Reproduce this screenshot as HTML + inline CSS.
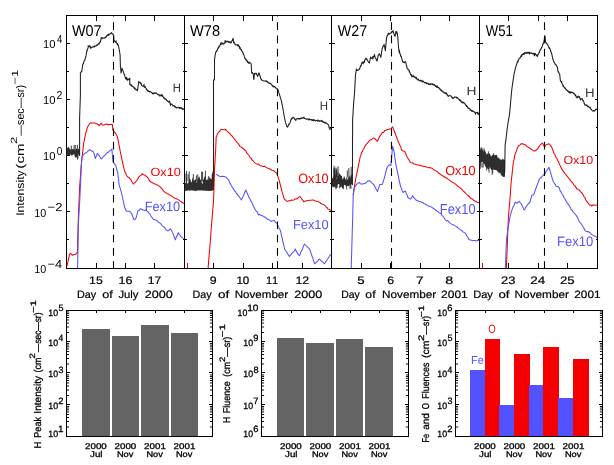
<!DOCTYPE html>
<html><head><meta charset="utf-8"><style>
html,body{margin:0;padding:0;background:#fff;}
body{width:614px;height:465px;overflow:hidden;}
svg{display:block;will-change:transform;text-rendering:geometricPrecision;font-family:"Liberation Sans",sans-serif;font-kerning:none;}
</style></head><body>
<svg width="614" height="465" viewBox="0 0 614 465">
<rect width="614" height="465" fill="#fff"/>
<defs><clipPath id="clipTop"><rect x="0" y="15" width="614" height="254"/></clipPath></defs>
<g stroke="#000" stroke-width="1" fill="none" shape-rendering="crispEdges">
<rect x="66.5" y="15.5" width="531" height="253"/>
<line x1="184.5" y1="15" x2="184.5" y2="269"/>
<line x1="331.5" y1="15" x2="331.5" y2="269"/>
<line x1="479.5" y1="15" x2="479.5" y2="269"/>
<line x1="66.5" y1="239.5" x2="68.5" y2="239.5"/>
<line x1="184.5" y1="239.5" x2="182.5" y2="239.5"/>
<line x1="66.5" y1="211.5" x2="69.5" y2="211.5"/>
<line x1="184.5" y1="211.5" x2="181.5" y2="211.5"/>
<line x1="66.5" y1="183.5" x2="68.5" y2="183.5"/>
<line x1="184.5" y1="183.5" x2="182.5" y2="183.5"/>
<line x1="66.5" y1="155.5" x2="69.5" y2="155.5"/>
<line x1="184.5" y1="155.5" x2="181.5" y2="155.5"/>
<line x1="66.5" y1="127.5" x2="68.5" y2="127.5"/>
<line x1="184.5" y1="127.5" x2="182.5" y2="127.5"/>
<line x1="66.5" y1="99.5" x2="69.5" y2="99.5"/>
<line x1="184.5" y1="99.5" x2="181.5" y2="99.5"/>
<line x1="66.5" y1="71.5" x2="68.5" y2="71.5"/>
<line x1="184.5" y1="71.5" x2="182.5" y2="71.5"/>
<line x1="66.5" y1="43.5" x2="69.5" y2="43.5"/>
<line x1="184.5" y1="43.5" x2="181.5" y2="43.5"/>
<line x1="184.5" y1="239.5" x2="186.5" y2="239.5"/>
<line x1="331.5" y1="239.5" x2="329.5" y2="239.5"/>
<line x1="184.5" y1="211.5" x2="187.5" y2="211.5"/>
<line x1="331.5" y1="211.5" x2="328.5" y2="211.5"/>
<line x1="184.5" y1="183.5" x2="186.5" y2="183.5"/>
<line x1="331.5" y1="183.5" x2="329.5" y2="183.5"/>
<line x1="184.5" y1="155.5" x2="187.5" y2="155.5"/>
<line x1="331.5" y1="155.5" x2="328.5" y2="155.5"/>
<line x1="184.5" y1="127.5" x2="186.5" y2="127.5"/>
<line x1="331.5" y1="127.5" x2="329.5" y2="127.5"/>
<line x1="184.5" y1="99.5" x2="187.5" y2="99.5"/>
<line x1="331.5" y1="99.5" x2="328.5" y2="99.5"/>
<line x1="184.5" y1="71.5" x2="186.5" y2="71.5"/>
<line x1="331.5" y1="71.5" x2="329.5" y2="71.5"/>
<line x1="184.5" y1="43.5" x2="187.5" y2="43.5"/>
<line x1="331.5" y1="43.5" x2="328.5" y2="43.5"/>
<line x1="331.5" y1="239.5" x2="333.5" y2="239.5"/>
<line x1="479.5" y1="239.5" x2="477.5" y2="239.5"/>
<line x1="331.5" y1="211.5" x2="334.5" y2="211.5"/>
<line x1="479.5" y1="211.5" x2="476.5" y2="211.5"/>
<line x1="331.5" y1="183.5" x2="333.5" y2="183.5"/>
<line x1="479.5" y1="183.5" x2="477.5" y2="183.5"/>
<line x1="331.5" y1="155.5" x2="334.5" y2="155.5"/>
<line x1="479.5" y1="155.5" x2="476.5" y2="155.5"/>
<line x1="331.5" y1="127.5" x2="333.5" y2="127.5"/>
<line x1="479.5" y1="127.5" x2="477.5" y2="127.5"/>
<line x1="331.5" y1="99.5" x2="334.5" y2="99.5"/>
<line x1="479.5" y1="99.5" x2="476.5" y2="99.5"/>
<line x1="331.5" y1="71.5" x2="333.5" y2="71.5"/>
<line x1="479.5" y1="71.5" x2="477.5" y2="71.5"/>
<line x1="331.5" y1="43.5" x2="334.5" y2="43.5"/>
<line x1="479.5" y1="43.5" x2="476.5" y2="43.5"/>
<line x1="479.5" y1="239.5" x2="481.5" y2="239.5"/>
<line x1="597.5" y1="239.5" x2="595.5" y2="239.5"/>
<line x1="479.5" y1="211.5" x2="482.5" y2="211.5"/>
<line x1="597.5" y1="211.5" x2="594.5" y2="211.5"/>
<line x1="479.5" y1="183.5" x2="481.5" y2="183.5"/>
<line x1="597.5" y1="183.5" x2="595.5" y2="183.5"/>
<line x1="479.5" y1="155.5" x2="482.5" y2="155.5"/>
<line x1="597.5" y1="155.5" x2="594.5" y2="155.5"/>
<line x1="479.5" y1="127.5" x2="481.5" y2="127.5"/>
<line x1="597.5" y1="127.5" x2="595.5" y2="127.5"/>
<line x1="479.5" y1="99.5" x2="482.5" y2="99.5"/>
<line x1="597.5" y1="99.5" x2="594.5" y2="99.5"/>
<line x1="479.5" y1="71.5" x2="481.5" y2="71.5"/>
<line x1="597.5" y1="71.5" x2="595.5" y2="71.5"/>
<line x1="479.5" y1="43.5" x2="482.5" y2="43.5"/>
<line x1="597.5" y1="43.5" x2="594.5" y2="43.5"/>
<line x1="96.5" y1="268" x2="96.5" y2="263"/>
<line x1="96.5" y1="15" x2="96.5" y2="21"/>
<line x1="125.5" y1="268" x2="125.5" y2="263"/>
<line x1="125.5" y1="15" x2="125.5" y2="21"/>
<line x1="154.5" y1="268" x2="154.5" y2="263"/>
<line x1="154.5" y1="15" x2="154.5" y2="21"/>
<line x1="213.5" y1="268" x2="213.5" y2="263"/>
<line x1="213.5" y1="15" x2="213.5" y2="21"/>
<line x1="243.5" y1="268" x2="243.5" y2="263"/>
<line x1="243.5" y1="15" x2="243.5" y2="21"/>
<line x1="272.5" y1="268" x2="272.5" y2="263"/>
<line x1="272.5" y1="15" x2="272.5" y2="21"/>
<line x1="302.5" y1="268" x2="302.5" y2="263"/>
<line x1="302.5" y1="15" x2="302.5" y2="21"/>
<line x1="361.5" y1="268" x2="361.5" y2="263"/>
<line x1="361.5" y1="15" x2="361.5" y2="21"/>
<line x1="390.5" y1="268" x2="390.5" y2="263"/>
<line x1="390.5" y1="15" x2="390.5" y2="21"/>
<line x1="420.5" y1="268" x2="420.5" y2="263"/>
<line x1="420.5" y1="15" x2="420.5" y2="21"/>
<line x1="449.5" y1="268" x2="449.5" y2="263"/>
<line x1="449.5" y1="15" x2="449.5" y2="21"/>
<line x1="508.5" y1="268" x2="508.5" y2="263"/>
<line x1="508.5" y1="15" x2="508.5" y2="21"/>
<line x1="538.5" y1="268" x2="538.5" y2="263"/>
<line x1="538.5" y1="15" x2="538.5" y2="21"/>
<line x1="567.5" y1="268" x2="567.5" y2="263"/>
<line x1="567.5" y1="15" x2="567.5" y2="21"/>
</g>
<polygon points="66.6,147.6 67.2,147.6 67.8,148.2 68.4,147.0 69.0,146.9 69.6,148.7 70.2,149.4 70.8,149.3 71.4,149.3 72.0,148.9 72.6,149.1 73.2,149.5 73.8,148.5 74.4,149.4 75.0,149.5 75.6,149.6 76.2,148.8 76.8,148.5 77.4,149.4 78.0,148.0 78.6,149.3 79.2,149.2 79.6,148.9 79.6,154.5 79.2,154.5 78.6,154.8 78.0,154.7 77.4,155.5 76.8,157.4 76.2,156.9 75.6,156.7 75.0,155.8 74.4,154.4 73.8,154.0 73.2,155.1 72.6,154.7 72.0,156.1 71.4,155.6 70.8,154.2 70.2,155.0 69.6,154.9 69.0,154.8 68.4,155.6 67.8,154.4 67.2,155.6 66.6,155.4" fill="#2e2e2e"/>
<line x1="71.3" y1="149.3" x2="71.3" y2="145.7" stroke="#2e2e2e" stroke-width="0.9"/>
<line x1="74.1" y1="149.3" x2="74.1" y2="145.0" stroke="#2e2e2e" stroke-width="0.9"/>
<line x1="75.3" y1="149.3" x2="75.3" y2="145.0" stroke="#2e2e2e" stroke-width="0.9"/>
<line x1="77.4" y1="149.3" x2="77.4" y2="144.8" stroke="#2e2e2e" stroke-width="0.9"/>
<line x1="75.2" y1="154.3" x2="75.2" y2="157.4" stroke="#2e2e2e" stroke-width="0.9"/>
<line x1="77.4" y1="154.3" x2="77.4" y2="159.7" stroke="#2e2e2e" stroke-width="0.9"/>
<line x1="78.0" y1="154.3" x2="78.0" y2="158.5" stroke="#2e2e2e" stroke-width="0.9"/>
<line x1="75.7" y1="154.3" x2="75.7" y2="157.5" stroke="#2e2e2e" stroke-width="0.9"/>
<polygon points="184.6,181.2 185.2,182.7 185.8,183.3 186.4,179.3 187.0,182.5 187.6,184.1 188.2,182.5 188.8,181.9 189.4,178.4 190.0,177.9 190.6,180.6 191.2,182.3 191.8,182.3 192.4,178.6 193.0,177.6 193.6,181.7 194.2,179.9 194.8,180.4 195.4,178.7 196.0,180.5 196.6,182.9 197.2,181.1 197.8,178.7 198.4,178.2 199.0,176.2 199.6,176.9 200.2,180.3 200.8,179.3 201.4,181.0 202.0,183.6 202.6,183.9 203.2,179.6 203.8,179.2 204.4,176.8 205.0,176.3 205.6,176.2 206.2,180.5 206.8,179.6 207.4,180.1 208.0,177.9 208.6,180.7 209.2,177.9 209.8,176.5 210.4,178.7 211.0,178.5 211.6,179.6 212.2,178.8 212.8,177.0 213.4,179.5 213.4,177.9 213.4,190.5 213.4,190.7 212.8,190.4 212.2,190.5 211.6,190.7 211.0,190.9 210.4,190.9 209.8,190.7 209.2,190.9 208.6,190.9 208.0,190.8 207.4,190.8 206.8,190.7 206.2,190.9 205.6,190.8 205.0,190.7 204.4,190.5 203.8,190.7 203.2,190.7 202.6,190.6 202.0,190.3 201.4,190.4 200.8,190.6 200.2,190.6 199.6,190.5 199.0,190.6 198.4,190.5 197.8,190.4 197.2,190.6 196.6,190.7 196.0,191.0 195.4,190.9 194.8,190.8 194.2,190.8 193.6,190.7 193.0,190.5 192.4,190.6 191.8,190.3 191.2,190.4 190.6,190.5 190.0,190.7 189.4,190.5 188.8,190.5 188.2,190.5 187.6,190.5 187.0,190.8 186.4,190.8 185.8,190.9 185.2,190.8 184.6,190.7" fill="#2e2e2e"/>
<line x1="212.5" y1="181.5" x2="212.5" y2="173.5" stroke="#2e2e2e" stroke-width="0.9"/>
<line x1="196.4" y1="181.5" x2="196.4" y2="175.5" stroke="#2e2e2e" stroke-width="0.9"/>
<line x1="201.6" y1="181.5" x2="201.6" y2="171.6" stroke="#2e2e2e" stroke-width="0.9"/>
<line x1="197.8" y1="181.5" x2="197.8" y2="174.3" stroke="#2e2e2e" stroke-width="0.9"/>
<line x1="186.6" y1="181.5" x2="186.6" y2="171.0" stroke="#2e2e2e" stroke-width="0.9"/>
<line x1="186.0" y1="181.5" x2="186.0" y2="173.8" stroke="#2e2e2e" stroke-width="0.9"/>
<line x1="208.4" y1="181.5" x2="208.4" y2="176.2" stroke="#2e2e2e" stroke-width="0.9"/>
<line x1="205.4" y1="181.5" x2="205.4" y2="170.8" stroke="#2e2e2e" stroke-width="0.9"/>
<line x1="202.6" y1="181.5" x2="202.6" y2="171.9" stroke="#2e2e2e" stroke-width="0.9"/>
<line x1="188.1" y1="181.5" x2="188.1" y2="174.2" stroke="#2e2e2e" stroke-width="0.9"/>
<line x1="189.2" y1="181.5" x2="189.2" y2="171.5" stroke="#2e2e2e" stroke-width="0.9"/>
<line x1="193.3" y1="181.5" x2="193.3" y2="174.1" stroke="#2e2e2e" stroke-width="0.9"/>
<line x1="212.9" y1="181.5" x2="212.9" y2="171.5" stroke="#2e2e2e" stroke-width="0.9"/>
<line x1="212.2" y1="181.5" x2="212.2" y2="174.1" stroke="#2e2e2e" stroke-width="0.9"/>
<polygon points="331.6,176.3 332.2,178.6 332.8,177.8 333.4,175.6 334.0,176.7 334.6,174.5 335.2,173.2 335.8,175.5 336.4,178.4 337.0,178.4 337.6,175.9 338.2,176.3 338.8,174.8 339.4,173.0 340.0,174.1 340.6,175.2 341.2,175.7 341.8,175.8 342.4,178.7 343.0,179.6 343.6,177.4 344.2,175.9 344.8,177.5 345.4,178.9 346.0,180.3 346.6,176.2 347.2,178.5 347.8,180.2 348.4,176.5 349.0,177.9 349.6,175.2 350.2,178.1 350.8,175.5 351.4,173.8 352.0,176.4 352.3,176.8 352.3,184.7 352.0,183.9 351.4,184.2 350.8,185.7 350.2,186.8 349.6,185.3 349.0,185.6 348.4,186.6 347.8,185.7 347.2,185.9 346.6,185.7 346.0,187.1 345.4,185.2 344.8,185.1 344.2,184.8 343.6,186.6 343.0,188.4 342.4,188.4 341.8,186.3 341.2,187.6 340.6,187.3 340.0,186.9 339.4,184.8 338.8,184.0 338.2,184.0 337.6,185.3 337.0,187.7 336.4,187.7 335.8,185.4 335.2,187.7 334.6,186.5 334.0,187.8 333.4,186.8 332.8,186.9 332.2,186.5 331.6,186.7" fill="#2e2e2e"/>
<line x1="335.9" y1="177.5" x2="335.9" y2="167.4" stroke="#2e2e2e" stroke-width="0.9"/>
<line x1="334.7" y1="177.5" x2="334.7" y2="168.0" stroke="#2e2e2e" stroke-width="0.9"/>
<line x1="334.4" y1="177.5" x2="334.4" y2="169.6" stroke="#2e2e2e" stroke-width="0.9"/>
<line x1="336.3" y1="177.5" x2="336.3" y2="170.7" stroke="#2e2e2e" stroke-width="0.9"/>
<line x1="351.2" y1="177.5" x2="351.2" y2="166.9" stroke="#2e2e2e" stroke-width="0.9"/>
<line x1="338.1" y1="177.5" x2="338.1" y2="166.3" stroke="#2e2e2e" stroke-width="0.9"/>
<line x1="336.3" y1="177.5" x2="336.3" y2="169.8" stroke="#2e2e2e" stroke-width="0.9"/>
<line x1="348.9" y1="177.5" x2="348.9" y2="168.1" stroke="#2e2e2e" stroke-width="0.9"/>
<line x1="334.1" y1="177.5" x2="334.1" y2="165.6" stroke="#2e2e2e" stroke-width="0.9"/>
<line x1="336.3" y1="177.5" x2="336.3" y2="170.8" stroke="#2e2e2e" stroke-width="0.9"/>
<line x1="347.3" y1="177.5" x2="347.3" y2="170.3" stroke="#2e2e2e" stroke-width="0.9"/>
<line x1="337.9" y1="177.5" x2="337.9" y2="172.1" stroke="#2e2e2e" stroke-width="0.9"/>
<line x1="333.9" y1="177.5" x2="333.9" y2="168.5" stroke="#2e2e2e" stroke-width="0.9"/>
<line x1="336.9" y1="177.5" x2="336.9" y2="168.4" stroke="#2e2e2e" stroke-width="0.9"/>
<line x1="339.4" y1="185.5" x2="339.4" y2="188.4" stroke="#2e2e2e" stroke-width="0.9"/>
<line x1="351.0" y1="185.5" x2="351.0" y2="188.5" stroke="#2e2e2e" stroke-width="0.9"/>
<line x1="343.4" y1="185.5" x2="343.4" y2="189.2" stroke="#2e2e2e" stroke-width="0.9"/>
<line x1="335.7" y1="185.5" x2="335.7" y2="187.9" stroke="#2e2e2e" stroke-width="0.9"/>
<line x1="350.0" y1="185.5" x2="350.0" y2="189.1" stroke="#2e2e2e" stroke-width="0.9"/>
<line x1="337.0" y1="185.5" x2="337.0" y2="187.9" stroke="#2e2e2e" stroke-width="0.9"/>
<line x1="346.7" y1="185.5" x2="346.7" y2="189.4" stroke="#2e2e2e" stroke-width="0.9"/>
<line x1="336.0" y1="185.5" x2="336.0" y2="189.4" stroke="#2e2e2e" stroke-width="0.9"/>
<polygon points="479.6,148.7 480.2,149.9 480.8,149.1 481.4,148.6 482.0,150.3 482.6,150.8 483.2,150.4 483.8,152.1 484.4,150.5 485.0,150.1 485.6,152.1 486.2,153.5 486.8,154.8 487.4,153.5 488.0,153.5 488.6,153.9 489.2,153.6 489.8,153.4 490.4,155.0 491.0,156.6 491.6,156.2 492.2,154.8 492.8,155.1 493.4,154.6 494.0,154.5 494.6,155.7 495.2,155.0 495.8,155.1 496.4,155.1 497.0,154.8 497.6,157.5 498.2,158.6 498.8,157.1 499.4,158.8 500.0,159.4 500.6,159.1 501.2,160.6 501.8,159.4 502.4,159.3 503.0,158.6 503.6,159.8 504.2,159.4 504.8,160.4 505.0,160.3 505.0,177.0 504.8,176.7 504.2,176.8 503.6,177.1 503.0,177.1 502.4,176.1 501.8,175.9 501.2,175.0 500.6,174.1 500.0,172.3 499.4,173.4 498.8,171.9 498.2,173.1 497.6,171.3 497.0,171.3 496.4,170.1 495.8,169.8 495.2,170.2 494.6,169.7 494.0,169.7 493.4,169.5 492.8,169.0 492.2,170.3 491.6,169.9 491.0,169.2 490.4,168.4 489.8,166.7 489.2,167.8 488.6,168.2 488.0,169.0 487.4,168.7 486.8,168.1 486.2,167.5 485.6,166.9 485.0,165.8 484.4,164.0 483.8,164.2 483.2,163.0 482.6,162.1 482.0,162.0 481.4,162.6 480.8,163.1 480.2,164.3 479.6,163.1" fill="#2e2e2e"/>
<line x1="488.4" y1="154.5" x2="488.4" y2="151.3" stroke="#2e2e2e" stroke-width="0.9"/>
<line x1="484.1" y1="152.5" x2="484.1" y2="148.4" stroke="#2e2e2e" stroke-width="0.9"/>
<line x1="482.8" y1="152.0" x2="482.8" y2="149.0" stroke="#2e2e2e" stroke-width="0.9"/>
<line x1="481.8" y1="151.5" x2="481.8" y2="147.4" stroke="#2e2e2e" stroke-width="0.9"/>
<line x1="493.7" y1="156.9" x2="493.7" y2="153.1" stroke="#2e2e2e" stroke-width="0.9"/>
<line x1="481.0" y1="151.2" x2="481.0" y2="147.6" stroke="#2e2e2e" stroke-width="0.9"/>
<line x1="488.5" y1="166.0" x2="488.5" y2="169.5" stroke="#2e2e2e" stroke-width="0.9"/>
<line x1="480.2" y1="161.8" x2="480.2" y2="168.8" stroke="#2e2e2e" stroke-width="0.9"/>
<line x1="483.1" y1="163.3" x2="483.1" y2="167.5" stroke="#2e2e2e" stroke-width="0.9"/>
<line x1="486.7" y1="165.1" x2="486.7" y2="170.5" stroke="#2e2e2e" stroke-width="0.9"/>
<line x1="482.0" y1="162.7" x2="482.0" y2="167.7" stroke="#2e2e2e" stroke-width="0.9"/>
<line x1="489.0" y1="166.3" x2="489.0" y2="172.7" stroke="#2e2e2e" stroke-width="0.9"/>
<line x1="480.2" y1="161.8" x2="480.2" y2="166.2" stroke="#2e2e2e" stroke-width="0.9"/>
<line x1="492.2" y1="168.0" x2="492.2" y2="174.8" stroke="#2e2e2e" stroke-width="0.9"/>
<line x1="492.7" y1="168.2" x2="492.7" y2="173.2" stroke="#2e2e2e" stroke-width="0.9"/>
<polyline points="79.6,156.0 79.6,155.6 79.6,155.2 79.6,154.8 79.6,154.4 79.6,154.0 79.6,153.6 79.6,153.2 79.6,152.8 79.6,152.4 79.6,152.0 79.6,151.6 79.6,151.2 79.6,150.8 79.6,150.4 79.6,150.0 79.6,149.6 79.6,149.2 79.6,148.8 79.6,148.4 79.6,148.0 79.6,147.6 79.6,147.2 79.6,146.8 79.6,146.4 79.6,146.0 79.6,145.6 79.6,145.2 79.6,144.8 79.6,144.4 79.6,144.0 79.6,143.6 79.6,143.2 79.6,142.8 79.6,142.4 79.6,142.0 79.6,141.6 79.6,141.2 79.6,140.8 79.6,140.4 79.6,140.0 79.6,139.6 79.6,139.2 79.6,138.8 79.6,138.4 79.6,138.0 79.6,137.6 79.6,137.2 79.6,136.8 79.6,136.4 79.6,136.0 79.6,135.6 79.6,135.2 79.6,134.8 79.6,134.4 79.6,134.0 79.6,133.6 79.6,133.2 79.6,132.8 79.6,132.4 79.6,132.0 79.6,131.6 79.6,131.2 79.6,130.8 79.6,130.4 79.6,130.0 79.6,129.6 79.6,129.2 79.6,128.8 79.6,128.4 79.6,128.0 79.6,127.6 79.6,127.2 79.6,126.8 79.6,126.4 79.6,126.0 79.6,125.6 79.6,125.2 79.6,124.8 79.6,124.4 79.6,124.0 79.6,123.6 79.6,123.2 79.6,122.8 79.6,122.4 79.6,122.0 79.6,121.6 79.6,121.2 79.6,120.8 79.6,120.4 79.6,120.0 79.6,119.6 79.6,119.2 79.6,118.8 79.6,118.4 79.6,118.0 79.6,117.6 79.6,117.2 79.6,116.8 79.7,116.4 79.7,116.0 79.7,115.6 79.7,115.2 79.7,114.8 79.7,114.4 79.7,114.0 79.8,113.6 79.8,113.2 79.8,112.8 79.8,112.4 79.8,111.9 79.8,111.5 79.8,111.1 79.9,110.7 79.9,110.3 79.9,109.9 79.9,109.5 79.9,109.1 79.9,108.7 79.9,108.3 80.0,107.9 80.0,107.5 80.0,107.1 80.0,106.7 80.0,106.3 80.0,105.9 80.0,105.5 80.0,105.1 80.1,104.7 80.1,104.3 80.1,103.9 80.1,103.5 80.1,103.1 80.1,102.7 80.1,102.3 80.2,101.9 80.2,101.5 80.2,101.1 80.2,100.6 80.2,100.2 80.2,99.8 80.2,99.4 80.3,99.0 80.3,98.6 80.3,98.2 80.3,97.8 80.3,97.4 80.3,97.0 80.3,96.6 80.4,96.2 80.4,95.8 80.4,95.4 80.4,95.0 80.4,94.6 80.4,94.2 80.4,93.8 80.4,93.4 80.4,93.0 80.4,92.6 80.4,92.2 80.4,91.8 80.4,91.4 80.4,91.0 80.4,90.6 80.4,90.2 80.4,89.8 80.4,89.4 80.4,89.0 80.4,88.6 80.4,88.2 80.4,87.8 80.4,87.4 80.4,87.0 80.4,86.6 80.4,86.2 80.4,85.8 80.4,85.4 80.4,85.0 80.4,84.6 80.4,84.2 80.4,83.8 80.4,83.3 80.4,82.9 80.4,82.5 80.4,82.1 80.4,81.7 80.4,81.3 80.4,80.9 80.4,80.5 80.4,80.1 80.4,79.7 80.4,79.3 80.4,78.9 80.4,78.5 80.4,78.1 80.4,77.7 80.4,77.3 80.4,76.9 80.4,76.5 80.4,76.1 80.4,75.7 80.4,75.3 80.4,74.9 80.4,74.5 80.4,74.1 80.4,73.7 80.4,73.3 80.4,72.9 80.4,72.8 80.8,72.6 81.3,71.5 81.7,71.8 81.8,71.4 81.8,71.0 81.9,70.6 81.9,70.2 82.0,69.8 82.0,69.4 82.1,69.0 82.2,68.6 82.2,68.2 82.3,67.7 82.3,67.3 82.4,66.9 82.5,66.5 82.5,66.1 82.6,65.7 82.6,65.3 82.7,64.9 82.7,64.5 82.8,64.0 83.0,64.2 83.2,64.0 83.4,63.0 83.5,63.6 83.7,61.9 83.9,61.8 84.1,60.9 84.3,60.8 84.4,60.5 84.6,60.6 84.7,59.8 84.9,59.4 85.0,59.3 85.2,59.1 85.3,58.4 85.5,57.0 85.6,57.1 85.8,57.1 85.9,56.4 86.0,56.0 86.0,55.6 86.1,55.2 86.2,54.7 86.3,54.3 86.3,53.9 86.4,53.5 86.5,53.1 86.5,52.7 86.6,52.3 86.7,51.8 86.8,51.4 86.8,51.0 86.9,51.9 87.1,49.7 87.2,50.3 87.4,49.2 87.5,49.5 87.7,49.2 87.8,48.2 88.0,48.3 88.1,47.4 88.2,45.6 88.4,46.3 88.8,46.6 89.1,46.7 89.5,45.7 89.8,45.9 90.0,46.9 90.3,46.3 90.5,47.5 90.8,48.4 91.2,47.2 91.6,47.4 91.9,47.6 92.3,47.4 92.7,47.0 93.1,46.5 93.6,46.9 94.0,46.2 94.4,46.9 94.9,45.8 95.3,46.2 95.7,46.1 96.1,45.7 96.5,45.8 97.0,44.7 97.4,44.7 97.8,45.1 98.1,44.3 98.4,43.6 98.7,43.4 99.0,44.1 99.2,43.9 99.5,42.8 99.8,42.2 100.1,41.8 100.4,42.2 100.5,41.8 100.5,41.4 100.6,40.9 100.7,40.5 100.8,40.1 100.8,39.7 100.9,39.3 101.0,38.8 101.0,38.4 101.1,37.8 101.6,37.5 102.0,38.0 102.5,38.8 103.0,37.8 103.5,38.0 104.0,38.1 104.4,38.3 104.9,37.4 105.2,37.8 105.6,37.8 105.9,37.2 106.2,36.0 106.6,36.7 106.9,35.7 107.3,35.2 107.7,34.8 108.0,35.2 108.4,34.1 108.8,35.3 109.2,34.2 109.5,34.2 109.9,34.2 110.3,33.6 110.7,33.8 111.0,33.3 111.4,32.5 111.8,33.0 112.3,34.1 112.7,34.2 112.9,34.5 113.1,34.1 113.3,35.0 113.5,34.8 113.7,35.7 113.7,36.1 113.7,36.5 113.8,36.9 113.8,37.3 113.8,37.7 113.8,38.1 113.9,38.5 113.9,38.9 113.9,39.3 113.9,39.7 114.0,40.1 114.0,40.5 114.0,40.3 114.4,40.4 114.8,41.7 115.2,41.8 115.5,42.3 115.8,41.7 116.1,40.8 116.3,43.0 116.6,43.1 116.9,43.7 117.2,44.2 117.4,43.6 117.6,44.1 117.8,45.2 117.9,43.9 118.1,45.5 118.3,45.2 118.5,46.0 118.6,46.4 118.7,46.8 118.7,47.3 118.8,47.7 118.9,48.1 119.0,48.5 119.1,48.9 119.2,49.3 119.2,49.8 119.3,50.2 119.4,50.6 119.5,51.0 119.5,51.4 119.6,51.8 119.7,52.2 119.7,52.6 119.8,53.0 119.8,53.4 119.9,53.8 120.0,54.2 120.0,54.6 120.1,55.0 120.1,55.4 120.1,55.8 120.1,56.2 120.1,56.6 120.2,57.0 120.2,57.4 120.2,57.8 120.2,58.2 120.2,58.6 120.2,59.0 120.2,59.4 120.2,59.8 120.2,60.2 120.2,60.6 120.3,61.1 120.3,61.5 120.3,61.9 120.3,62.3 120.3,62.7 120.3,63.1 120.3,63.5 120.3,63.9 120.3,64.3 120.3,64.7 120.4,65.1 120.4,65.5 120.4,65.9 120.4,66.3 120.4,67.4 120.6,67.1 120.6,67.5 120.7,67.9 120.7,68.4 120.7,68.8 120.7,69.2 120.8,69.6 120.8,70.0 120.8,70.5 120.9,70.9 120.9,71.3 120.9,71.7 120.9,72.2 121.0,72.6 121.0,73.0 121.1,72.6 121.2,72.2 121.3,71.8 121.4,71.4 121.5,71.0 121.5,70.7 121.6,70.3 121.7,69.9 121.8,69.5 121.9,69.1 122.0,68.7 122.1,68.3 122.2,68.7 122.4,69.1 122.5,69.5 122.6,69.9 122.8,70.2 122.9,70.6 123.0,71.0 123.2,71.4 123.3,71.8 123.4,72.2 123.6,72.6 123.7,73.0 123.8,73.4 124.0,73.8 124.1,74.2 124.2,74.6 124.4,75.0 124.5,74.9 124.7,75.2 124.9,76.2 125.1,77.0 125.3,77.5 125.5,78.7 125.7,77.7 125.9,77.7 126.1,77.9 126.3,78.6 126.5,79.7 126.8,77.3 127.0,79.5 127.3,80.2 127.5,80.1 127.7,79.3 127.9,79.5 128.2,79.9 128.4,79.3 128.6,79.0 129.0,79.4 129.4,78.5 129.8,78.3 129.8,78.7 129.8,79.1 129.8,79.6 129.8,80.0 129.8,80.4 129.8,80.8 129.8,81.2 129.8,81.7 129.8,82.1 129.8,82.5 129.8,82.9 129.8,83.4 129.8,83.8 129.8,84.7 130.2,84.0 130.5,84.8 130.9,85.4 131.2,85.8 131.6,84.8 131.9,86.3 132.2,86.0 132.5,86.4 132.8,86.7 133.1,86.3 133.4,86.7 133.7,87.4 134.1,87.2 134.4,89.0 134.7,87.8 135.0,88.4 135.4,88.7 135.7,89.7 136.0,89.5 136.3,89.4 136.6,89.8 136.9,90.2 137.2,90.5 137.5,90.7 137.6,90.3 137.6,89.9 137.7,89.5 137.7,89.1 137.8,88.7 137.8,88.3 137.9,87.9 137.9,87.5 138.0,87.1 138.0,86.7 138.1,86.3 138.2,85.9 138.2,85.5 138.3,85.1 138.3,84.7 138.4,84.3 138.4,83.9 138.5,83.5 138.5,83.1 138.6,82.7 138.6,82.3 138.7,81.4 139.1,82.5 139.5,82.3 139.9,82.1 140.2,83.1 140.5,83.7 140.8,82.8 141.1,83.7 141.3,83.5 141.5,85.1 141.6,84.8 141.8,85.6 142.0,85.6 142.2,85.7 142.6,86.3 143.1,86.2 143.6,86.0 144.0,84.2 144.3,87.2 144.6,87.2 144.9,87.4 145.2,86.4 145.5,87.4 145.8,88.1 146.1,88.2 146.3,89.3 146.6,89.7 146.8,89.3 147.1,90.4 147.3,90.1 147.6,90.9 147.9,90.3 148.3,91.5 148.6,91.1 149.0,91.1 149.3,91.9 149.7,91.9 150.1,91.4 150.5,91.6 150.9,91.9 151.3,92.5 151.7,92.8 152.1,92.7 152.4,93.8 152.8,93.2 153.1,93.0 153.5,94.0 153.9,93.4 154.3,92.7 154.7,93.0 155.0,93.5 155.4,93.2 155.8,92.8 156.1,92.8 156.5,93.1 156.8,93.9 157.2,94.1 157.5,94.3 157.9,94.0 158.2,94.9 158.6,94.7 159.1,95.0 159.5,94.7 159.9,96.3 160.3,95.5 160.8,94.7 161.2,94.7 161.5,95.9 161.8,94.9 162.1,94.7 162.3,96.2 162.6,95.3 162.9,96.7 163.2,96.6 163.5,97.7 163.8,98.1 164.1,98.1 164.4,97.9 164.7,98.3 165.0,99.2 165.3,99.6 165.6,99.0 165.9,99.3 166.2,99.3 166.6,100.4 166.9,100.5 167.2,100.6 167.6,101.4 167.9,101.5 168.2,101.4 168.6,101.7 168.9,102.3 169.2,102.0 169.6,101.0 169.9,103.3 170.2,103.1 170.5,105.4 170.9,103.9 171.2,103.9 171.5,104.5 171.8,104.2 172.1,104.3 172.4,105.0 172.7,105.3 173.0,106.0 173.3,105.9 173.6,105.6 174.0,105.6 174.4,105.9 174.8,107.2 175.1,106.3 175.5,107.3 175.9,107.0 176.3,108.0 176.7,107.5 177.1,107.7 177.5,107.8 177.9,107.2 178.3,107.5 178.8,107.8 179.3,107.4 179.7,108.6 180.2,107.3 180.7,108.4 181.1,108.6 181.5,107.7 181.8,107.9 182.2,109.0 182.6,109.5 183.0,108.8 183.5,109.3 184.0,108.5" fill="none" stroke="#1e1e1e" stroke-width="1.05" stroke-linejoin="round" />
<polyline points="213.5,190.0 213.5,189.6 213.5,189.2 213.5,188.8 213.5,188.4 213.5,188.0 213.5,187.6 213.5,187.2 213.5,186.8 213.5,186.4 213.5,186.0 213.5,185.6 213.5,185.2 213.5,184.8 213.5,184.4 213.5,184.0 213.5,183.6 213.5,183.2 213.5,182.8 213.5,182.4 213.5,182.0 213.5,181.6 213.5,181.2 213.5,180.8 213.5,180.4 213.5,180.0 213.5,179.6 213.5,179.2 213.5,178.8 213.5,178.4 213.5,178.0 213.5,177.6 213.5,177.2 213.5,176.8 213.5,176.4 213.5,176.0 213.5,175.6 213.5,175.2 213.5,174.8 213.5,174.4 213.5,174.0 213.5,173.6 213.5,173.2 213.5,172.8 213.5,172.4 213.5,172.0 213.5,171.6 213.5,171.2 213.5,170.8 213.5,170.4 213.5,170.0 213.5,169.6 213.5,169.2 213.5,168.8 213.5,168.4 213.5,168.0 213.5,167.6 213.5,167.2 213.5,166.8 213.5,166.4 213.5,166.0 213.5,165.6 213.5,165.2 213.5,164.8 213.5,164.4 213.5,164.0 213.5,163.6 213.5,163.2 213.5,162.8 213.5,162.3 213.5,161.9 213.5,161.5 213.5,161.1 213.5,160.7 213.5,160.3 213.5,159.9 213.5,159.5 213.5,159.1 213.5,158.7 213.5,158.3 213.5,157.9 213.5,157.5 213.5,157.1 213.5,156.7 213.5,156.3 213.5,155.9 213.5,155.5 213.5,155.1 213.5,154.7 213.5,154.3 213.5,153.9 213.5,153.5 213.5,153.1 213.5,152.7 213.5,152.3 213.5,151.9 213.5,151.5 213.5,151.1 213.5,150.7 213.5,150.3 213.5,149.9 213.5,149.5 213.5,149.1 213.5,148.7 213.5,148.3 213.5,147.9 213.5,147.5 213.5,147.1 213.5,146.7 213.5,146.3 213.5,145.9 213.5,145.5 213.5,145.1 213.5,144.7 213.5,144.3 213.5,143.9 213.5,143.5 213.5,143.1 213.5,142.7 213.5,142.3 213.5,141.9 213.5,141.5 213.5,141.1 213.5,140.7 213.5,140.3 213.5,139.9 213.5,139.5 213.5,139.1 213.5,138.7 213.5,138.3 213.5,137.9 213.5,137.5 213.5,137.1 213.5,136.7 213.5,136.3 213.5,135.9 213.5,135.5 213.5,135.1 213.5,134.7 213.5,134.3 213.5,133.9 213.5,133.5 213.5,133.1 213.5,132.7 213.5,132.3 213.5,131.9 213.5,131.5 213.5,131.1 213.5,130.7 213.5,130.3 213.5,129.9 213.5,129.5 213.5,129.1 213.5,128.7 213.5,128.3 213.5,127.9 213.5,127.5 213.5,127.1 213.5,126.7 213.5,126.3 213.5,125.9 213.5,125.5 213.5,125.1 213.5,124.7 213.5,124.3 213.5,123.9 213.5,123.5 213.5,123.1 213.5,122.7 213.5,122.3 213.5,121.9 213.5,121.5 213.5,121.1 213.5,120.7 213.5,120.3 213.5,119.9 213.5,119.5 213.5,119.1 213.5,118.7 213.5,118.3 213.5,117.9 213.5,117.5 213.5,117.1 213.5,116.7 213.5,116.3 213.5,115.9 213.5,115.5 213.5,115.1 213.5,114.7 213.5,114.3 213.5,113.9 213.5,113.5 213.5,113.1 213.5,112.7 213.5,112.3 213.5,111.9 213.5,111.5 213.5,111.1 213.5,110.7 213.5,110.3 213.5,109.9 213.5,109.5 213.5,109.1 213.5,108.7 213.5,108.2 213.5,107.8 213.5,107.4 213.5,107.0 213.5,106.6 213.5,106.2 213.5,105.8 213.5,105.4 213.5,105.0 213.5,104.6 213.5,104.2 213.5,103.8 213.5,103.4 213.5,103.0 213.5,102.6 213.5,102.2 213.5,101.8 213.5,101.4 213.5,101.0 213.5,100.6 213.5,100.2 213.5,99.8 213.5,99.4 213.5,99.0 213.5,98.6 213.5,98.2 213.5,97.8 213.5,97.4 213.5,97.0 213.5,96.6 213.5,96.2 213.5,95.8 213.5,95.4 213.5,95.0 213.5,94.6 213.5,94.2 213.5,93.8 213.5,93.4 213.5,93.0 213.5,92.6 213.5,92.2 213.5,91.8 213.5,91.4 213.5,91.0 213.5,90.6 213.5,90.2 213.5,89.8 213.5,89.4 213.5,89.0 213.5,88.6 213.5,88.2 213.5,87.8 213.5,87.4 213.5,87.0 213.5,86.6 213.5,86.2 213.5,85.8 213.5,85.4 213.5,85.0 213.5,84.6 213.5,84.2 213.5,83.8 213.5,83.4 213.5,83.0 213.5,82.6 213.5,82.2 213.5,81.8 213.5,81.4 213.5,81.0 213.7,80.5 213.9,79.5 214.1,80.1 214.3,79.8 214.5,79.0 214.5,78.6 214.5,78.2 214.5,77.8 214.5,77.4 214.5,77.0 214.5,76.6 214.5,76.2 214.5,75.8 214.5,75.3 214.5,74.9 214.5,74.5 214.5,74.1 214.5,73.7 214.5,73.3 214.5,72.9 214.5,72.5 214.5,72.1 214.5,71.7 214.5,71.3 214.5,70.9 214.5,70.5 214.5,70.1 214.5,69.7 214.5,69.2 214.5,68.8 214.5,68.4 214.5,68.0 214.5,67.6 214.5,67.2 214.5,66.8 214.5,66.4 214.5,66.0 214.5,65.6 214.5,65.2 214.5,64.8 214.5,64.4 214.5,64.0 214.5,63.6 214.5,63.2 214.5,62.8 214.5,62.3 214.5,61.9 214.5,61.5 214.5,61.1 214.5,60.7 214.5,60.3 214.5,59.9 214.5,59.5 214.6,59.1 214.6,58.7 214.7,58.3 214.8,57.9 214.8,57.5 214.9,57.1 214.9,56.7 215.0,56.3 215.1,55.9 215.1,55.5 215.2,55.1 215.2,54.7 215.3,54.3 215.4,53.9 215.4,53.5 215.5,53.5 215.7,52.2 215.9,52.3 216.1,51.4 216.4,50.9 216.6,51.5 216.8,50.4 217.0,50.9 217.2,49.7 217.4,49.8 217.6,49.1 217.8,48.9 218.0,47.9 218.2,48.6 218.4,47.4 218.6,47.7 218.8,47.5 219.0,46.1 219.2,46.8 219.5,46.5 219.8,45.3 220.0,45.5 220.2,44.9 220.5,44.2 220.8,43.2 221.0,42.8 221.2,44.4 221.5,43.3 221.9,42.9 222.3,43.9 222.7,43.1 223.1,43.6 223.5,43.5 223.8,44.1 224.2,43.4 224.5,43.1 224.8,43.3 225.1,40.4 225.4,42.5 225.8,41.5 226.1,42.1 226.5,41.7 226.9,41.1 227.3,41.0 227.7,41.5 228.1,42.1 228.5,42.4 228.9,41.2 229.3,42.0 229.7,42.6 230.1,42.0 230.4,41.8 230.8,43.0 231.2,42.8 231.4,41.6 231.5,41.5 231.7,41.0 231.9,41.1 232.0,40.5 232.2,40.8 232.4,40.7 232.5,39.4 232.7,39.5 232.9,39.4 233.0,38.2 233.2,38.2 233.2,38.6 233.3,39.1 233.3,39.5 233.3,39.9 233.4,40.4 233.4,40.8 233.4,41.2 233.5,41.7 233.5,41.8 233.8,42.9 234.0,42.1 234.3,42.4 234.6,43.1 234.8,43.2 235.1,44.4 235.5,44.8 235.9,45.0 236.2,45.0 236.6,45.0 237.0,44.5 237.3,44.8 237.7,45.9 238.0,46.0 238.3,44.8 238.7,46.2 239.0,45.9 239.2,47.3 239.5,46.6 239.7,48.6 239.9,48.5 240.2,47.6 240.4,49.1 240.7,49.0 240.9,49.6 241.1,49.3 241.4,49.6 241.6,51.0 241.9,50.7 242.1,51.7 242.4,51.5 242.6,51.8 242.8,52.8 242.9,52.5 243.1,52.9 243.2,53.8 243.4,53.9 243.6,54.1 243.7,54.8 243.9,55.0 244.0,55.4 244.1,55.8 244.2,56.2 244.4,56.6 244.5,57.0 244.6,57.4 244.7,57.8 244.8,57.9 245.0,58.7 245.3,58.2 245.5,59.2 245.8,59.8 246.0,59.3 246.2,60.1 246.5,59.8 246.7,60.2 247.0,61.3 247.3,60.8 247.6,62.4 248.0,62.1 248.3,62.9 248.6,62.2 249.0,63.5 249.5,62.3 249.9,62.5 250.3,62.9 250.8,63.3 251.2,63.6 251.2,64.0 251.2,64.4 251.3,64.8 251.3,65.2 251.3,65.6 251.3,66.0 251.3,66.4 251.3,66.8 251.4,67.2 251.4,67.6 251.4,68.0 251.4,68.4 251.4,68.8 251.5,69.2 251.5,69.6 251.5,70.0 251.5,70.4 251.5,70.8 251.5,71.2 251.6,71.6 251.6,72.0 251.6,73.0 251.9,72.3 252.2,73.1 252.6,72.8 252.9,73.7 253.2,73.7 253.2,74.1 253.3,74.5 253.3,74.9 253.4,75.4 253.4,75.8 253.5,76.2 253.5,76.6 253.5,77.0 253.6,77.4 253.6,77.8 253.7,78.3 253.7,78.7 253.8,79.1 253.8,79.5 253.9,79.1 253.9,78.7 254.0,78.3 254.0,77.8 254.1,77.4 254.1,77.0 254.2,76.6 254.2,76.2 254.2,75.8 254.3,75.4 254.3,74.9 254.4,74.5 254.4,74.1 254.5,73.3 255.0,73.5 255.4,73.8 255.9,73.2 256.4,74.2 256.6,73.7 256.8,74.0 257.0,75.0 257.1,75.3 257.3,75.6 257.5,76.2 257.7,76.4 257.8,75.7 258.0,75.0 258.1,75.5 258.3,74.5 258.4,74.8 258.6,73.2 258.7,73.8 258.9,73.5 259.0,72.8 259.1,73.5 259.3,74.2 259.4,74.0 259.6,74.2 259.7,75.1 259.9,75.4 260.0,76.2 260.2,76.5 260.3,76.3 260.4,76.7 260.4,77.1 260.5,77.5 260.6,77.9 260.7,78.3 260.8,78.7 260.8,79.1 260.9,78.9 261.3,79.0 261.7,80.2 262.0,80.0 262.4,80.4 262.8,80.4 263.2,80.7 263.7,80.9 264.1,81.0 264.6,81.1 265.0,81.1 265.5,81.1 265.9,80.7 266.2,80.7 266.6,81.7 266.9,81.7 267.3,82.0 267.6,81.3 268.0,82.7 268.3,82.6 268.7,83.1 269.0,82.9 269.4,83.3 269.7,83.5 270.0,83.0 270.4,83.6 270.7,83.6 271.0,83.9 271.3,84.2 271.6,84.5 272.0,85.5 272.3,85.4 272.6,86.3 273.0,86.7 273.3,86.2 273.6,86.0 274.0,87.0 274.3,86.6 274.7,86.6 275.1,87.3 275.4,87.8 275.8,87.5 276.2,88.7 276.5,88.6 276.9,88.9 277.2,89.2 277.5,89.1 277.8,90.1 278.1,89.9 278.2,90.3 278.3,90.7 278.5,91.1 278.6,91.5 278.7,91.9 278.8,92.4 278.9,92.8 279.0,93.2 279.2,93.6 279.3,94.0 279.4,94.4 279.5,94.8 279.6,95.2 279.8,95.6 279.9,96.0 280.0,96.4 280.1,96.8 280.3,97.2 280.4,97.6 280.5,98.0 280.6,98.4 280.8,98.8 280.9,99.2 281.0,99.6 281.1,100.0 281.3,100.4 281.4,100.8 281.5,101.2 281.6,101.6 281.6,102.0 281.7,102.4 281.8,102.8 281.9,103.2 282.0,103.6 282.0,104.0 282.1,104.5 282.2,104.9 282.3,105.3 282.4,105.7 282.5,106.1 282.5,106.5 282.6,106.9 282.7,107.3 282.8,107.7 282.8,108.1 282.9,108.5 283.0,108.9 283.0,109.3 283.1,109.7 283.2,110.1 283.2,110.5 283.3,110.9 283.4,111.4 283.5,111.8 283.5,112.2 283.6,112.6 283.7,113.0 283.7,113.4 283.8,113.8 283.9,114.2 283.9,114.6 284.0,115.0 284.1,115.4 284.1,115.8 284.2,116.2 284.3,116.6 284.4,117.0 284.4,117.4 284.5,117.8 284.6,118.2 284.7,118.7 284.8,119.1 284.8,119.5 284.9,119.9 285.0,120.3 285.1,120.7 285.1,121.1 285.2,121.5 285.3,121.9 285.5,122.3 285.6,122.7 285.7,123.0 285.9,123.4 286.0,123.8 286.1,124.2 286.3,124.6 286.4,125.0 286.5,125.4 286.7,125.8 286.8,126.1 286.9,126.5 287.1,126.9 287.2,127.1 287.4,127.0 287.6,126.9 287.8,126.9 287.9,126.2 288.1,126.0 288.3,125.5 288.5,125.1 288.8,124.1 289.1,124.0 289.5,124.2 289.8,123.4 289.9,123.0 290.1,122.6 290.2,122.3 290.3,121.9 290.5,121.5 290.6,121.1 290.7,120.7 290.8,120.4 291.0,120.0 291.1,119.1 291.3,118.8 291.6,119.3 291.8,119.1 292.1,117.8 292.3,117.9 292.5,118.3 292.8,117.4 293.0,117.3 293.3,117.6 293.6,117.3 293.9,117.9 294.3,118.4 294.6,118.9 294.9,119.5 295.3,119.3 295.8,120.5 296.2,118.9 296.6,118.8 297.1,119.1 297.5,118.4 297.9,118.4 298.4,118.8 298.8,118.3 299.2,119.3 299.7,118.8 300.1,118.2 300.5,118.8 300.9,118.6 301.3,117.7 301.7,118.4 302.1,118.4 302.5,118.0 302.9,117.9 303.3,117.4 303.7,117.9 304.0,117.3 304.4,118.4 304.8,118.7 305.2,118.7 305.5,118.6 305.9,119.0 306.3,118.9 306.8,119.4 307.2,119.0 307.6,119.0 308.1,118.8 308.5,119.9 308.9,120.1 309.4,119.1 309.8,119.1 310.2,119.8 310.7,119.8 311.1,119.4 311.5,119.4 312.0,120.6 312.4,120.0 312.8,119.5 313.3,120.8 313.7,119.9 314.1,120.2 314.5,119.8 315.0,120.8 315.4,121.0 315.8,120.7 316.2,120.5 316.7,120.5 317.1,120.1 317.5,120.3 317.9,121.2 318.4,120.2 318.8,120.5 319.2,121.4 319.7,120.9 320.1,120.6 320.5,121.0 321.0,121.5 321.4,121.2 321.8,120.3 322.1,121.6 322.5,121.1 322.9,122.0 323.3,121.6 323.6,122.4 324.0,122.1 324.4,122.5 324.7,123.0 325.1,122.2 325.5,123.1 325.9,122.7 326.2,123.2 326.6,123.3 327.0,123.2 327.4,123.9 327.7,124.1 328.1,124.8 328.5,124.7 328.6,125.1 328.7,125.5 328.8,125.9 328.9,126.3 328.9,126.8 329.0,127.2 329.1,127.6 329.2,128.0 329.5,127.7 329.8,128.9 330.1,129.5 330.4,128.8 331.0,129.0" fill="none" stroke="#1e1e1e" stroke-width="1.05" stroke-linejoin="round" />
<polyline points="352.4,185.0 352.4,184.6 352.4,184.2 352.4,183.8 352.4,183.4 352.4,183.0 352.4,182.6 352.4,182.2 352.4,181.8 352.4,181.4 352.4,181.0 352.4,180.6 352.4,180.2 352.4,179.8 352.4,179.4 352.4,179.0 352.4,178.6 352.4,178.2 352.4,177.8 352.4,177.4 352.4,177.0 352.4,176.6 352.4,176.2 352.4,175.8 352.4,175.4 352.4,175.0 352.4,174.6 352.4,174.2 352.4,173.8 352.4,173.4 352.4,173.0 352.4,172.6 352.4,172.2 352.4,171.8 352.4,171.4 352.4,171.0 352.4,170.6 352.4,170.2 352.4,169.8 352.4,169.4 352.4,169.0 352.5,168.5 352.5,168.1 352.5,167.7 352.5,167.3 352.5,166.9 352.5,166.5 352.5,166.1 352.5,165.7 352.5,165.3 352.5,164.9 352.5,164.5 352.5,164.1 352.5,163.7 352.5,163.3 352.5,162.9 352.5,162.5 352.5,162.1 352.5,161.7 352.5,161.3 352.5,160.9 352.5,160.5 352.5,160.1 352.5,159.7 352.5,159.3 352.5,158.9 352.5,158.5 352.5,158.1 352.5,157.7 352.5,157.3 352.5,156.9 352.5,156.5 352.5,156.1 352.5,155.7 352.5,155.3 352.5,154.9 352.5,154.5 352.5,154.1 352.5,153.7 352.5,153.3 352.5,152.9 352.5,152.5 352.5,152.1 352.5,151.7 352.5,151.3 352.5,150.9 352.5,150.5 352.5,150.1 352.5,149.7 352.5,149.3 352.5,148.9 352.5,148.5 352.5,148.1 352.5,147.7 352.5,147.3 352.5,146.9 352.5,146.5 352.5,146.1 352.5,145.7 352.5,145.3 352.5,144.9 352.5,144.5 352.5,144.1 352.5,143.7 352.5,143.3 352.5,142.9 352.5,142.5 352.5,142.1 352.5,141.7 352.5,141.3 352.5,140.9 352.5,140.5 352.5,140.1 352.5,139.7 352.5,139.3 352.5,138.9 352.5,138.5 352.5,138.1 352.5,137.7 352.5,137.3 352.5,136.9 352.5,136.5 352.6,136.0 352.6,135.6 352.6,135.2 352.6,134.8 352.6,134.4 352.6,134.0 352.6,133.6 352.6,133.2 352.6,132.8 352.6,132.4 352.6,132.0 352.6,131.6 352.6,131.2 352.6,130.8 352.6,130.4 352.6,130.0 352.6,129.6 352.6,129.2 352.6,128.8 352.6,128.4 352.6,128.0 352.6,127.6 352.6,127.2 352.6,126.8 352.6,126.4 352.6,126.0 352.6,125.6 352.6,125.2 352.6,124.8 352.6,124.4 352.6,124.0 352.6,123.6 352.6,123.2 352.6,122.8 352.6,122.4 352.6,122.0 352.6,121.6 352.6,121.2 352.6,120.8 352.6,120.4 352.6,120.0 352.6,119.6 352.6,119.2 352.7,118.8 352.7,118.4 352.7,118.0 352.7,117.6 352.8,117.2 352.8,116.8 352.8,116.4 352.8,115.9 352.9,115.5 352.9,115.1 352.9,114.7 352.9,114.3 353.0,113.9 353.0,113.5 353.0,113.1 353.0,112.7 353.1,112.3 353.1,111.9 353.1,111.5 353.1,111.1 353.2,110.7 353.2,110.3 353.2,109.9 353.2,109.5 353.3,109.1 353.3,108.6 353.3,108.2 353.3,107.8 353.4,107.4 353.4,107.0 353.4,106.6 353.4,106.2 353.5,105.8 353.5,105.4 353.5,105.0 353.5,104.6 353.6,104.2 353.6,103.8 353.6,103.4 353.7,103.0 353.7,102.6 353.7,102.2 353.8,101.8 353.8,101.3 353.8,100.9 353.9,100.5 353.9,100.1 353.9,99.7 354.0,99.3 354.0,98.9 354.1,98.5 354.1,98.1 354.1,97.7 354.2,97.3 354.2,96.9 354.2,96.5 354.3,96.1 354.3,95.7 354.3,95.2 354.4,94.8 354.4,94.4 354.4,94.0 354.5,93.6 354.5,93.2 354.5,92.8 354.6,92.4 354.6,92.0 354.6,91.6 354.6,91.2 354.7,90.8 354.7,90.4 354.7,90.0 354.7,89.6 354.7,89.2 354.8,88.8 354.8,88.4 354.8,88.0 354.8,87.6 354.9,87.2 354.9,86.8 354.9,86.4 354.9,86.0 354.9,85.6 355.0,85.2 355.0,84.8 355.0,84.4 355.0,84.0 355.0,83.6 355.1,83.1 355.1,82.7 355.1,82.3 355.1,81.9 355.1,81.5 355.2,81.1 355.2,80.7 355.2,80.3 355.2,79.9 355.2,79.5 355.3,79.1 355.3,78.7 355.3,78.3 355.3,77.9 355.4,77.5 355.4,77.1 355.4,76.7 355.4,76.3 355.4,75.9 355.5,75.5 355.5,75.1 355.5,74.7 355.6,74.3 355.6,73.9 355.7,73.5 355.8,73.1 355.8,72.7 355.9,72.3 356.0,71.9 356.1,71.5 356.1,71.1 356.2,70.7 356.3,70.3 356.3,69.9 356.4,68.9 356.8,70.4 357.3,70.0 357.7,70.5 358.1,70.1 358.5,70.0 358.8,69.3 359.2,69.4 359.6,68.9 359.7,68.5 359.9,68.1 360.0,67.7 360.1,67.3 360.2,67.0 360.4,66.6 360.5,66.2 360.6,65.8 360.8,65.4 360.9,65.4 361.1,65.0 361.3,65.8 361.5,63.6 361.6,63.3 361.8,62.8 362.0,63.0 362.2,62.3 362.7,62.0 363.1,63.8 363.6,61.8 364.1,61.3 364.3,62.7 364.5,61.6 364.7,60.1 364.9,60.3 365.1,59.5 365.3,59.4 365.5,59.3 365.7,58.3 365.9,58.7 366.1,58.4 366.4,58.7 366.6,59.7 366.9,59.2 367.1,59.6 367.4,60.1 367.6,60.6 367.8,60.7 368.0,61.3 368.2,61.3 368.5,62.2 368.7,62.4 368.9,62.6 369.1,62.7 369.3,63.1 369.4,62.7 369.5,62.3 369.6,61.9 369.7,61.4 369.8,61.0 369.9,60.6 370.0,60.2 370.0,59.8 370.1,59.4 370.2,59.0 370.3,58.5 370.4,58.1 370.5,57.7 370.6,57.0 371.0,57.8 371.4,57.8 371.7,58.5 372.1,58.1 372.5,58.1 372.7,56.5 372.9,59.1 373.2,57.8 373.4,57.0 373.6,56.5 373.8,56.4 374.1,56.5 374.3,54.3 374.5,54.9 374.6,55.1 374.8,56.6 374.9,56.2 375.1,57.6 375.2,57.6 375.4,58.2 375.6,58.2 375.7,58.7 375.9,58.5 376.1,58.7 376.3,59.7 376.4,60.1 376.6,60.6 376.8,60.4 377.0,61.1 377.1,60.7 377.2,60.3 377.3,59.9 377.4,59.4 377.5,59.0 377.6,58.6 377.6,58.2 377.7,57.8 377.8,57.4 377.9,57.0 378.0,56.5 378.1,56.1 378.2,55.7 378.3,54.8 378.6,54.9 379.0,54.3 379.3,53.8 379.6,54.6 379.8,54.5 379.9,54.8 380.1,55.5 380.2,56.0 380.4,55.5 380.6,56.3 380.7,57.2 380.9,57.3 381.0,56.9 381.0,56.5 381.1,56.1 381.1,55.6 381.2,55.2 381.3,54.8 381.3,54.4 381.4,54.0 381.4,53.6 381.5,53.2 381.5,52.8 381.6,52.3 381.7,51.9 381.7,51.5 381.8,51.1 381.8,50.7 381.9,50.3 382.0,49.9 382.0,49.4 382.1,49.0 382.1,48.6 382.2,48.5 382.4,48.5 382.6,47.1 382.8,46.9 382.9,46.4 383.1,46.5 383.3,46.6 383.5,45.6 383.7,45.5 383.9,45.1 384.1,44.4 384.2,44.8 384.3,45.2 384.3,45.6 384.4,46.0 384.5,46.4 384.6,46.8 384.7,47.2 384.8,47.6 384.8,48.0 384.9,48.4 385.0,48.8 385.1,49.2 385.2,49.6 385.2,50.0 385.3,50.4 385.4,50.8 385.4,50.4 385.5,50.0 385.5,49.6 385.5,49.2 385.6,48.8 385.6,48.4 385.6,48.0 385.7,47.6 385.7,47.2 385.7,46.8 385.8,46.4 385.8,46.0 385.8,45.6 385.9,45.2 385.9,44.8 385.9,44.3 386.0,43.9 386.0,43.5 386.1,43.1 386.1,42.7 386.1,42.3 386.2,41.9 386.2,41.5 386.2,41.1 386.3,40.7 386.3,40.3 386.3,39.9 386.4,39.5 386.4,39.1 386.4,38.7 386.5,38.3 386.5,37.8 386.6,37.0 386.8,37.2 386.9,37.0 387.1,35.8 387.2,35.6 387.4,35.6 387.6,35.8 387.7,35.4 387.9,34.6 388.0,33.5 388.4,33.3 388.9,34.3 389.3,34.0 389.7,33.3 390.2,33.5 390.6,33.0 390.9,33.1 391.2,32.7 391.6,31.6 391.9,32.4 392.2,31.7 392.6,31.0 392.9,31.7 393.2,30.8 393.3,31.2 393.4,31.7 393.5,32.1 393.6,32.5 393.7,33.0 393.8,33.4 394.0,34.0 394.2,34.3 394.4,35.2 394.5,35.4 394.7,35.0 394.9,36.3 395.1,35.6 395.2,36.1 395.4,34.7 395.5,34.6 395.7,33.8 395.8,31.6 396.0,33.1 396.1,33.6 396.2,32.7 396.4,32.2 396.5,32.4 396.7,31.9 396.8,31.5 396.9,31.9 397.0,32.3 397.0,32.7 397.1,33.1 397.2,33.5 397.3,34.0 397.4,34.4 397.5,34.8 397.5,35.2 397.6,35.6 397.7,36.0 397.7,36.4 397.8,36.8 397.8,37.2 397.8,37.6 397.8,38.0 397.9,38.4 397.9,38.8 397.9,39.2 398.0,39.6 398.0,40.0 398.0,40.4 398.0,40.8 398.1,41.2 398.1,41.6 398.1,42.0 398.2,42.4 398.2,42.8 398.2,43.2 398.2,43.6 398.3,44.0 398.3,44.4 398.3,44.8 398.4,45.2 398.4,45.7 398.5,46.1 398.5,46.5 398.5,46.9 398.6,47.3 398.6,47.7 398.7,48.2 398.7,48.6 398.8,49.0 398.8,49.4 398.8,49.8 398.9,50.2 398.9,50.7 399.0,51.1 399.0,51.4 399.2,52.2 399.3,52.7 399.5,50.2 399.6,52.7 399.8,53.8 400.0,53.6 400.1,54.1 400.3,54.2 400.5,54.4 400.6,55.3 400.8,56.2 401.0,56.7 401.2,56.0 401.3,56.8 401.5,57.3 401.6,57.7 401.7,58.1 401.8,58.5 401.9,58.9 401.9,59.3 402.0,59.7 402.1,60.1 402.2,60.2 402.5,61.6 402.7,61.8 403.0,62.2 403.2,62.1 403.5,61.7 403.9,62.5 404.4,62.7 404.8,61.9 405.2,61.5 405.6,61.9 405.7,62.3 405.8,62.7 405.9,63.1 406.0,63.6 406.1,64.0 406.2,64.4 406.2,64.8 406.3,65.2 406.4,65.6 406.5,66.0 406.6,66.5 406.7,66.9 406.8,67.3 406.9,66.5 407.1,68.1 407.4,69.0 407.6,68.9 407.9,68.9 408.1,69.0 408.4,69.7 408.6,70.1 408.9,70.1 409.1,70.2 409.2,71.6 409.4,70.7 409.5,71.7 409.7,72.2 409.9,72.7 410.0,72.4 410.2,73.7 410.3,73.6 410.5,74.4 410.6,75.0 410.8,74.2 411.1,75.1 411.3,74.7 411.6,75.5 411.8,77.0 412.1,76.6 412.6,76.4 413.1,75.1 413.5,76.8 414.0,76.9 414.3,77.2 414.6,76.6 415.0,76.9 415.3,77.3 415.6,78.0 416.0,78.4 416.3,77.3 416.6,79.1 416.9,78.7 417.2,78.8 417.6,79.2 417.9,80.1 418.2,79.2 418.6,79.7 418.9,80.1 419.2,80.7 419.6,80.9 420.0,80.6 420.4,80.1 420.8,81.1 421.2,81.1 421.6,80.4 422.0,81.1 422.4,82.0 422.8,80.8 423.1,81.8 423.5,81.2 423.8,81.8 424.2,82.1 424.5,82.4 424.9,83.1 425.2,82.5 425.6,83.0 426.0,82.4 426.4,82.9 426.8,83.9 427.2,83.2 427.7,83.2 428.1,83.7 428.5,84.5 428.9,83.9 429.3,84.2 429.7,84.7 430.2,83.6 430.6,84.6 431.0,83.8 431.4,84.1 431.9,84.0 432.3,84.6 432.7,83.8 433.0,84.3 433.4,85.0 433.7,84.6 434.0,84.3 434.4,84.7 434.7,85.5 435.0,85.3 435.3,86.4 435.7,85.7 436.0,85.9 436.4,87.2 436.8,87.0 437.2,85.8 437.7,87.5 438.1,87.7 438.5,87.4 438.8,87.8 439.1,87.7 439.4,88.8 439.7,89.1 439.9,88.7 440.2,89.0 440.5,89.8 440.8,90.5 441.1,90.6 441.4,90.0 441.8,90.4 442.1,91.6 442.4,91.8 442.7,91.4 443.1,92.0 443.4,92.1 443.7,92.0 444.1,93.0 444.6,93.1 445.0,92.5 445.4,93.6 445.9,93.7 446.3,92.8 446.5,93.2 446.8,94.4 447.0,94.6 447.2,95.2 447.5,94.7 447.7,95.1 448.0,96.2 448.2,96.2 448.6,96.4 449.1,95.6 449.5,95.4 449.9,95.6 450.4,95.8 450.8,95.9 451.1,96.1 451.4,96.7 451.7,97.2 452.0,97.0 452.2,97.1 452.5,98.4 452.8,97.9 453.1,98.5 453.4,98.0 453.7,98.1 453.9,97.6 454.2,97.8 454.4,97.1 454.7,97.0 455.2,97.2 455.6,97.1 456.1,96.9 456.6,97.9 456.9,97.9 457.2,97.5 457.6,97.8 457.9,98.5 458.2,98.3 458.6,99.0 458.9,99.3 459.2,99.7 459.5,99.5 459.8,100.6 460.1,99.8 460.4,101.1 460.6,100.3 460.9,100.5 461.2,102.0 461.5,102.0 461.8,102.6 462.2,101.7 462.5,102.8 462.9,103.0 463.3,102.7 463.7,102.2 464.0,103.0 464.4,103.2 464.7,103.9 464.9,103.9 465.2,104.1 465.4,104.0 465.7,105.1 466.0,105.1 466.2,105.3 466.5,106.5 466.7,105.6 467.0,106.4 467.3,106.4 467.6,107.0 467.9,108.1 468.2,108.4 468.6,108.4 468.9,108.0 469.2,108.5 469.5,108.5 469.8,108.8 470.1,110.0 470.5,109.6 470.8,110.0 471.1,110.9 471.5,110.2 471.8,111.1 472.1,111.4 472.5,110.5 472.8,110.8 473.2,111.5 473.6,111.5 474.0,112.0 474.3,111.7 474.7,112.5 475.1,112.8 475.6,114.2 476.0,112.4 476.4,112.4 476.9,112.5 477.3,112.3 477.6,114.0 477.9,112.9 478.2,113.2 478.6,114.0 478.9,114.7 479.2,114.8" fill="none" stroke="#1e1e1e" stroke-width="1.05" stroke-linejoin="round" />
<polyline points="504.7,172.4 504.7,172.0 504.7,171.6 504.7,171.2 504.7,170.8 504.7,170.4 504.7,170.0 504.7,169.6 504.7,169.2 504.8,168.8 504.8,168.4 504.8,168.0 504.8,167.5 504.8,167.1 504.8,166.7 504.8,166.3 504.8,165.9 504.8,165.5 504.8,165.1 504.8,164.7 504.8,164.3 504.8,163.9 504.8,163.5 504.8,163.1 504.8,162.7 504.8,162.3 504.9,161.9 504.9,161.5 504.9,161.1 504.9,160.7 504.9,160.3 504.9,159.9 504.9,159.5 504.9,159.1 504.9,158.6 504.9,158.2 504.9,157.8 504.9,157.4 504.9,157.0 504.9,156.6 504.9,156.2 504.9,155.8 505.0,155.4 505.0,155.0 505.0,154.6 505.0,154.2 505.0,153.8 505.0,153.4 505.0,153.0 505.0,152.6 505.0,152.2 505.0,151.8 505.0,151.4 505.0,151.0 505.0,150.6 505.0,150.2 505.0,149.7 505.0,149.3 505.0,148.9 505.1,148.5 505.1,148.1 505.1,147.7 505.1,147.3 505.1,146.9 505.1,146.5 505.1,146.1 505.1,145.7 505.1,145.3 505.2,144.9 505.2,144.5 505.3,144.1 505.3,143.7 505.4,143.3 505.4,142.9 505.5,142.5 505.6,142.1 505.6,141.7 505.7,141.2 505.7,140.8 505.8,140.4 505.9,140.0 505.9,139.6 506.0,139.2 506.0,138.8 506.1,138.4 506.1,138.0 506.2,137.6 506.2,137.2 506.3,136.8 506.3,136.4 506.4,136.0 506.4,135.5 506.5,135.1 506.5,134.7 506.5,134.3 506.6,133.9 506.6,133.5 506.7,133.1 506.7,132.7 506.7,132.3 506.8,131.9 506.8,131.4 506.9,131.0 506.9,130.6 507.0,130.2 507.0,129.8 507.1,129.4 507.1,129.0 507.2,128.6 507.3,128.2 507.3,127.8 507.4,127.4 507.4,127.0 507.5,126.6 507.6,126.2 507.6,125.7 507.7,125.3 507.8,124.9 507.8,124.5 507.9,124.1 507.9,123.7 508.0,123.3 508.1,122.9 508.1,122.5 508.2,122.1 508.3,121.7 508.3,121.3 508.4,120.9 508.5,120.5 508.5,120.1 508.6,119.7 508.7,119.3 508.7,118.9 508.8,118.5 508.9,118.0 509.0,117.6 509.0,117.2 509.1,116.8 509.2,116.4 509.2,116.0 509.3,115.6 509.4,115.2 509.4,114.8 509.5,114.4 509.5,114.0 509.6,113.6 509.6,113.2 509.7,112.8 509.7,112.4 509.7,112.0 509.8,111.6 509.8,111.2 509.8,110.8 509.9,110.4 509.9,110.0 510.0,109.6 510.0,109.2 510.0,108.8 510.1,108.4 510.1,108.0 510.1,107.6 510.2,107.2 510.2,106.8 510.3,106.4 510.3,106.0 510.3,105.6 510.4,105.2 510.4,104.8 510.4,104.4 510.5,104.0 510.5,103.6 510.5,103.2 510.6,102.8 510.6,102.4 510.6,102.0 510.7,101.6 510.7,101.2 510.8,100.8 510.8,100.4 510.8,100.0 510.9,99.6 510.9,99.2 510.9,98.8 511.0,98.4 511.0,98.0 511.0,97.6 511.1,97.2 511.1,96.8 511.1,96.4 511.2,95.9 511.2,95.5 511.3,95.1 511.3,94.7 511.3,94.3 511.4,93.9 511.4,93.5 511.4,93.1 511.5,92.7 511.5,92.3 511.6,91.8 511.6,91.4 511.6,91.0 511.7,90.6 511.7,90.2 511.8,89.8 511.8,89.4 511.9,89.0 511.9,88.6 512.0,88.2 512.0,87.7 512.1,87.3 512.2,86.9 512.2,86.5 512.3,86.1 512.3,85.7 512.4,85.3 512.4,84.9 512.5,84.5 512.6,84.1 512.6,83.6 512.7,83.2 512.7,82.8 512.8,82.4 512.8,82.0 512.9,81.6 513.0,81.2 513.0,80.8 513.1,80.4 513.2,80.0 513.2,79.5 513.3,79.1 513.3,78.7 513.4,78.3 513.5,77.9 513.5,77.5 513.6,77.1 513.7,76.7 513.7,76.3 513.8,75.9 513.8,75.4 513.9,75.0 514.0,74.6 514.0,74.2 514.1,73.8 514.2,73.4 514.3,73.0 514.4,72.6 514.5,72.2 514.6,71.8 514.7,71.4 514.8,71.0 514.8,70.6 514.9,70.2 515.0,69.8 515.1,69.4 515.2,69.0 515.3,68.6 515.4,68.2 515.5,67.8 515.6,67.4 515.8,67.0 515.9,66.6 516.0,66.2 516.2,65.8 516.3,65.4 516.4,65.1 516.5,64.7 516.7,64.3 516.8,63.9 516.9,63.5 517.1,63.1 517.2,62.1 517.4,61.6 517.6,62.6 517.8,62.2 518.0,60.4 518.1,60.9 518.3,61.0 518.5,60.3 518.7,59.7 518.9,59.4 519.1,58.3 519.4,58.0 519.6,58.1 519.8,57.9 520.1,57.5 520.3,57.8 520.6,56.6 520.8,56.4 521.0,56.0 521.3,55.1 521.5,56.7 521.8,55.5 522.1,54.7 522.5,54.2 522.8,54.7 523.1,53.6 523.5,53.6 523.8,53.7 524.1,54.7 524.5,52.7 525.0,53.3 525.4,53.1 525.8,52.4 526.2,53.5 526.6,52.4 527.1,52.3 527.5,53.2 527.9,52.8 528.4,52.4 528.8,53.2 529.2,52.3 529.6,54.1 530.1,52.5 530.5,53.3 530.9,53.2 531.4,52.9 531.8,53.3 532.2,53.6 532.6,53.3 533.1,53.6 533.5,54.2 533.9,53.2 534.4,55.9 534.8,53.4 535.2,54.4 535.5,53.8 535.7,54.7 536.0,54.7 536.2,55.3 536.5,55.4 536.7,55.0 537.0,56.2 537.2,56.4 537.4,56.4 537.5,56.0 537.7,55.8 537.9,54.4 538.1,54.6 538.3,54.3 538.5,54.2 538.7,54.0 538.8,53.3 539.0,52.3 539.2,52.0 539.4,52.5 539.6,52.2 539.7,51.1 539.9,50.2 540.1,50.0 540.3,50.1 540.5,49.4 540.7,50.0 540.8,48.9 541.0,49.0 541.2,48.4 541.4,48.2 541.6,47.5 541.7,47.2 541.9,47.3 542.1,47.0 542.3,46.2 542.4,45.8 542.6,45.4 542.7,44.2 542.9,44.6 543.0,44.1 543.2,43.3 543.3,42.6 543.5,43.3 543.6,42.6 543.8,42.0 543.9,41.6 544.0,41.2 544.0,40.8 544.1,40.4 544.2,40.0 544.3,39.6 544.4,39.2 544.4,38.8 544.5,38.4 544.6,38.0 544.7,37.6 544.8,37.2 544.8,36.8 544.9,36.4 545.0,36.0 545.0,36.4 545.1,36.8 545.1,37.2 545.2,37.6 545.2,38.0 545.2,38.4 545.3,38.8 545.3,39.2 545.4,39.6 545.4,40.0 545.4,40.4 545.5,40.8 545.5,41.2 545.6,41.6 545.6,41.9 545.8,42.7 546.1,42.8 546.3,43.4 546.6,43.6 546.8,43.3 547.1,44.2 547.3,44.3 547.5,44.3 547.7,45.1 547.9,45.4 548.2,45.6 548.4,46.4 548.6,47.1 548.8,47.5 549.0,47.9 549.2,47.3 549.5,48.7 549.7,48.5 549.9,48.4 550.1,49.0 550.2,49.6 550.4,50.4 550.5,50.3 550.7,51.0 550.8,51.9 551.0,51.5 551.1,52.1 551.3,52.3 551.4,53.5 551.6,53.2 551.7,53.6 551.8,54.0 551.9,54.4 551.9,54.8 552.0,55.2 552.1,55.6 552.2,56.0 552.3,56.4 552.4,56.8 552.5,57.2 552.6,57.6 552.6,58.0 552.7,58.4 552.8,58.8 552.9,59.7 553.1,59.3 553.2,59.7 553.4,60.9 553.6,61.3 553.7,61.5 553.9,61.8 554.0,62.4 554.2,61.9 554.4,62.7 554.5,62.7 554.7,63.3 555.0,63.4 555.3,64.8 555.6,64.5 555.9,64.6 556.1,64.8 556.4,65.7 556.6,65.9 556.9,66.6 557.1,66.5 557.4,67.1 557.5,67.5 557.5,68.0 557.6,68.4 557.6,68.8 557.7,69.2 557.7,69.7 557.8,70.1 557.8,70.5 557.9,70.9 557.9,71.4 558.0,71.3 558.2,72.2 558.5,72.3 558.7,71.9 559.0,72.9 559.2,73.8 559.5,74.1 559.7,74.2 559.7,74.6 559.8,75.0 559.8,75.5 559.9,75.9 559.9,76.3 560.0,76.7 560.0,77.2 560.0,77.6 560.1,78.0 560.1,78.4 560.2,78.8 560.2,79.3 560.3,79.7 560.3,80.3 560.5,80.6 560.7,81.5 560.9,81.0 561.1,81.1 561.3,82.1 561.5,82.6 561.7,81.5 561.9,83.3 562.1,83.9 562.3,83.8 562.5,84.4 562.7,84.3 562.9,85.2 563.2,86.7 563.4,85.4 563.6,86.9 563.8,86.7 564.0,86.7 564.3,87.2 564.5,87.2 564.8,88.3 565.1,88.0 565.4,88.0 565.6,89.0 565.9,89.2 566.2,90.1 566.5,89.8 566.8,90.0 567.1,90.4 567.4,90.4 567.7,90.4 568.0,91.6 568.4,91.2 568.7,91.6 569.1,92.7 569.4,92.1 569.8,91.4 570.3,93.2 570.7,93.0 571.2,91.9 571.6,92.6 572.1,92.5 572.5,92.2 572.8,92.6 573.2,93.2 573.5,93.6 573.9,93.1 574.2,93.9 574.5,93.9 574.8,94.2 575.1,95.5 575.4,94.7 575.7,96.0 575.9,95.2 576.1,96.6 576.3,97.3 576.5,97.2 576.7,97.0 576.9,98.0 577.2,97.6 577.5,96.6 577.8,96.9 578.1,97.1 578.4,96.5 578.7,96.1 578.9,97.0 579.2,96.5 579.4,97.4 579.7,97.1 579.9,98.3 580.2,98.5 580.4,99.9 580.9,98.9 581.3,99.3 581.8,98.5 582.2,98.5 582.4,99.3 582.7,100.2 582.9,100.8 583.2,100.5 583.4,100.8 583.5,101.2 583.7,101.6 583.8,102.0 583.9,102.4 584.1,102.8 584.2,103.2 584.3,103.6 584.5,104.0 584.6,104.4 585.0,105.2 585.5,105.1 585.9,104.7 586.3,105.3 586.6,105.6 586.9,105.0 587.2,105.9 587.5,106.4 587.8,106.8 588.1,106.0 588.4,106.6 588.8,106.8 589.1,107.2 589.5,107.8 589.8,107.6 590.2,107.1 590.5,109.0 590.8,109.1 591.1,109.2 591.4,109.3 591.7,110.2 592.0,110.3 592.3,110.8 592.7,111.1 593.1,110.9 593.6,110.5 594.0,111.2 594.3,110.6 594.6,110.9 594.9,110.7 595.2,110.3 595.5,109.3 595.8,109.6 596.2,108.9 596.6,108.9 597.0,109.7" fill="none" stroke="#1e1e1e" stroke-width="1.05" stroke-linejoin="round" />
<polyline points="66.9,266.5 67.2,265.2 67.4,264.0 67.7,262.8 68.0,261.5 68.2,260.2 68.5,259.0 68.8,257.5 69.2,256.0 69.5,254.2 70.5,253.4 71.5,254.2 72.4,255.3 74.4,254.6 75.6,254.3 77.3,252.3 77.6,250.0 77.6,248.7 77.6,247.3 77.6,246.0 77.7,244.6 77.7,243.3 77.7,241.9 77.7,240.6 77.7,239.4 77.8,238.2 77.8,237.0 77.8,235.8 77.9,234.6 77.9,233.4 77.9,232.2 78.0,231.0 78.0,229.8 78.0,228.6 78.1,227.4 78.1,226.2 78.1,225.0 78.2,223.8 78.2,222.6 78.2,221.4 78.3,220.2 78.3,219.0 78.4,217.8 78.4,216.6 78.5,215.3 78.5,214.1 78.6,212.9 78.6,211.7 78.7,210.4 78.7,209.2 78.8,208.0 78.8,206.8 78.9,205.6 78.9,204.3 79.0,203.1 79.0,201.9 79.1,200.7 79.1,199.4 79.2,198.2 79.2,197.0 79.3,195.8 79.3,194.6 79.4,193.3 79.4,192.1 79.5,190.9 79.5,189.7 79.6,188.4 79.6,187.2 79.7,186.0 79.8,184.8 79.9,183.5 80.0,182.3 80.1,181.0 80.2,179.8 80.3,178.5 80.4,177.3 80.5,176.0 80.6,174.8 80.6,173.6 80.7,172.3 80.8,171.1 80.9,169.8 81.0,168.6 81.1,167.3 81.2,166.1 81.3,164.8 81.4,163.6 81.5,162.4 81.7,161.1 81.8,159.9 82.0,158.7 82.1,157.4 82.2,156.2 82.4,155.0 82.5,153.8 82.6,152.5 82.8,151.3 82.9,150.1 83.0,148.8 83.2,147.6 83.3,146.4 83.5,145.1 83.6,143.9 83.8,142.7 84.1,141.4 84.3,140.2 84.5,139.0 84.8,137.8 85.0,136.6 85.3,135.3 85.5,134.1 85.9,132.7 86.3,131.3 86.7,130.0 87.1,128.6 87.5,127.4 88.2,125.8 89.0,124.7 89.7,123.6 90.4,123.0 91.9,123.0 93.4,123.0 94.7,123.1 96.0,123.5 97.3,124.0 98.2,124.4 99.2,125.6 100.2,124.4 101.2,123.2 102.2,124.6 103.1,125.3 104.6,124.8 106.1,124.1 107.5,124.6 109.0,124.6 110.7,124.5 112.3,124.3 112.5,125.8 112.6,127.2 112.8,128.7 112.9,130.4 113.9,131.3 114.9,132.4 115.7,133.6 116.4,134.8 117.2,136.0 117.5,137.3 117.7,138.6 118.0,139.9 118.3,141.3 118.5,142.6 118.8,143.9 119.0,145.1 119.3,146.3 119.5,147.5 119.8,148.8 120.0,150.0 120.2,151.2 120.5,152.4 120.7,153.6 121.0,154.8 121.2,156.1 121.5,157.3 121.7,158.5 122.0,159.7 122.2,160.9 122.5,162.2 122.7,163.4 123.0,164.7 123.3,166.0 123.7,167.3 124.0,168.6 124.3,169.9 124.6,171.0 125.2,172.3 125.8,173.5 126.4,175.0 127.0,176.0 127.6,176.9 129.1,177.7 130.5,179.3 131.2,180.2 131.9,181.7 132.7,183.0 133.4,184.0 134.4,182.9 135.4,182.3 136.4,181.0 137.1,180.0 137.9,178.9 138.6,177.2 139.3,176.4 140.8,175.3 142.2,173.8 143.6,174.8 145.1,175.2 146.1,176.2 147.1,176.9 148.1,178.1 149.1,179.9 150.0,181.3 151.0,182.0 152.0,182.6 153.0,183.0 154.0,183.7 155.3,184.0 156.6,184.9 157.9,185.0 158.9,186.0 159.9,186.6 160.8,187.7 161.8,188.6 162.8,189.9 163.8,191.1 164.7,192.1 165.7,192.6 167.0,193.7 168.3,194.0 169.6,194.9 170.6,195.5 171.6,196.1 172.5,196.5 173.5,197.8 174.7,198.1 175.8,198.5 177.0,199.0 178.1,199.6 179.3,200.4 180.5,201.3 181.7,202.0 182.8,202.8 184.0,203.5" fill="none" stroke="#f40000" stroke-width="1.05" stroke-linejoin="round" />
<polyline points="77.6,268.0 77.6,266.8 77.6,265.6 77.7,264.3 77.7,263.1 77.7,261.9 77.7,260.7 77.8,259.4 77.8,258.2 77.8,257.0 77.8,255.8 77.8,254.6 77.9,253.3 77.9,252.1 77.9,250.9 77.9,249.7 78.0,248.4 78.0,247.2 78.0,246.0 78.0,244.8 78.0,243.6 78.1,242.3 78.1,241.1 78.1,239.9 78.1,238.7 78.2,237.4 78.2,236.2 78.2,235.0 78.2,233.8 78.2,232.6 78.3,231.3 78.3,230.1 78.3,228.9 78.3,227.7 78.4,226.4 78.4,225.2 78.4,224.0 78.5,222.8 78.5,221.6 78.6,220.4 78.7,219.1 78.7,217.9 78.8,216.7 78.9,215.5 78.9,214.3 79.0,213.1 79.1,211.9 79.1,210.6 79.2,209.4 79.3,208.2 79.3,207.0 79.4,205.8 79.5,204.6 79.6,203.4 79.6,202.1 79.7,200.9 79.8,199.7 79.8,198.5 79.9,197.3 80.0,196.1 80.0,194.9 80.1,193.6 80.2,192.4 80.2,191.2 80.3,190.0 80.3,188.8 80.4,187.6 80.5,186.3 80.5,185.1 80.5,183.9 80.6,182.7 80.7,181.4 80.7,180.2 80.8,179.0 80.8,177.8 80.8,176.6 80.9,175.3 81.0,174.1 81.0,172.9 81.0,171.7 81.1,170.4 81.2,169.2 81.2,168.0 81.3,166.8 81.3,165.6 81.4,164.3 81.5,163.1 81.5,161.9 81.6,160.7 81.7,159.4 81.7,158.2 81.8,157.3 82.6,155.5 83.5,154.8 84.3,153.5 85.4,153.1 86.6,152.8 87.6,151.5 88.6,150.6 89.6,149.6 91.4,150.7 93.4,151.7 93.8,152.9 94.2,154.2 94.5,155.4 94.9,156.7 95.3,158.5 96.0,156.8 96.6,155.3 97.3,153.4 98.2,154.4 99.2,155.6 99.9,156.8 100.5,158.3 101.2,159.0 102.2,158.2 103.1,156.8 104.1,155.9 105.1,155.1 106.0,154.0 107.0,152.8 108.0,152.2 109.0,151.7 110.0,150.7 111.0,149.8 111.9,149.1 112.0,150.3 112.1,151.6 112.2,152.8 112.3,154.0 112.4,155.2 112.5,156.5 112.6,157.7 112.7,158.9 112.8,160.2 112.9,161.4 113.6,162.5 114.3,163.6 115.1,164.7 115.8,165.4 116.1,166.7 116.5,168.0 116.8,169.3 117.1,170.6 117.5,171.9 117.8,173.2 118.0,174.5 118.1,175.8 118.3,177.1 118.4,178.4 118.6,179.7 118.7,181.0 118.9,182.3 119.0,183.6 119.2,184.9 119.6,186.2 119.9,187.4 120.3,188.7 120.6,189.9 121.0,191.2 121.3,192.4 121.7,193.7 122.0,194.9 122.2,196.2 122.5,197.4 122.8,198.7 123.0,199.9 123.3,201.2 123.5,202.4 123.8,203.7 124.1,204.9 124.3,206.2 124.6,207.6 125.3,208.6 125.9,210.2 126.6,211.3 128.1,211.2 129.5,211.3 130.5,212.4 131.5,213.4 131.9,214.0 132.3,215.8 132.8,216.7 133.2,217.9 133.6,219.2 134.0,219.8 135.0,219.3 136.0,218.1 136.4,216.7 136.8,215.4 137.1,214.0 137.5,212.7 137.9,211.0 139.1,210.3 140.3,208.8 141.8,209.3 143.2,210.0 144.6,210.6 146.1,210.0 147.1,211.4 148.1,211.9 149.1,213.4 149.9,214.1 150.7,215.6 151.4,216.8 152.2,217.6 153.0,219.0 154.3,219.5 155.6,220.1 156.9,220.5 158.4,222.2 159.8,222.9 160.8,223.9 161.8,225.3 162.7,226.1 163.7,227.0 164.7,227.7 165.6,229.0 166.6,230.4 167.6,230.9 168.6,230.6 169.6,229.4 170.6,229.1 171.2,230.1 171.9,231.3 172.5,232.6 173.0,233.7 173.5,234.8 173.9,235.9 174.4,237.8 174.9,238.5 175.4,239.7 175.9,238.3 176.4,236.3 176.9,236.5 177.4,235.4 177.9,233.1 178.4,232.7 179.1,234.2 179.9,234.6 180.6,236.4 181.3,236.8 182.7,237.9 184.0,238.6" fill="none" stroke="#5252ff" stroke-width="1.05" stroke-linejoin="round" />
<polyline points="216.2,174.3 217.5,175.0 218.8,175.9 220.5,176.4 222.2,176.3 223.9,176.4 225.7,176.9 226.6,177.8 227.4,178.6 228.3,179.6 229.0,180.8 229.6,182.2 230.2,183.6 230.9,184.6 231.5,186.0 232.2,187.0 232.8,188.1 233.4,188.9 234.2,190.0 234.9,191.3 235.7,191.8 236.5,193.4 237.3,194.3 238.1,195.3 238.9,196.3 239.8,197.6 240.6,198.7 241.4,199.9 242.0,198.6 242.5,197.6 243.1,196.4 243.6,195.1 244.2,194.0 244.7,192.4 245.2,191.6 245.8,189.9 246.3,191.3 246.9,192.3 247.4,193.8 247.9,194.8 248.4,196.0 248.9,197.2 249.5,198.1 250.0,199.1 250.5,200.4 251.1,201.2 251.6,202.5 252.2,203.2 252.7,204.5 253.3,206.0 253.8,206.8 254.4,208.0 254.9,209.0 255.6,210.3 256.3,210.9 257.1,211.8 257.8,213.3 258.5,214.9 259.7,214.4 260.9,215.2 262.2,215.8 263.4,216.2 264.6,217.0 265.9,217.6 267.1,219.2 268.3,219.2 269.5,220.1 270.7,221.1 271.9,221.1 273.2,220.8 274.4,220.4 275.2,221.8 276.0,222.4 276.8,223.4 277.4,224.8 278.0,225.8 278.6,227.2 279.3,228.5 279.9,229.5 280.5,231.0 280.8,232.2 281.1,233.4 281.3,234.7 281.6,235.9 281.9,237.1 282.2,238.3 282.5,239.5 282.7,240.8 283.0,242.0 283.3,243.2 283.6,244.4 283.9,245.6 284.1,246.9 284.4,248.1 284.7,249.4 285.4,250.3 286.1,251.1 286.8,252.2 287.4,253.7 288.1,254.4 288.8,255.7 289.5,256.5 290.3,255.4 291.1,254.4 291.9,253.4 292.8,252.4 293.6,251.9 294.4,250.7 295.2,249.0 295.9,250.6 296.6,251.8 297.2,252.9 297.9,254.0 298.6,254.5 299.3,255.6 299.8,254.8 300.3,253.9 300.8,252.1 301.3,251.0 301.9,250.5 302.4,249.3 302.9,247.6 303.4,246.7 303.9,245.2 304.4,244.1 305.3,245.0 306.2,245.9 307.1,246.6 308.0,247.7 308.9,248.4 309.8,249.3 310.2,250.5 310.6,251.8 311.0,253.0 311.4,254.2 311.8,255.4 312.2,256.6 312.7,257.9 313.1,259.1 313.5,260.3 313.9,261.6 314.3,262.8 314.7,263.8 315.7,263.0 316.7,261.9 317.6,261.3 318.6,259.8 319.6,259.1 320.6,260.2 321.6,261.1 322.5,261.7 323.5,262.9 324.5,263.8 325.2,262.8 325.9,261.3 326.6,260.7 327.3,259.1 328.0,258.3 328.7,257.2 329.4,256.2 330.2,255.0 331.0,254.0" fill="none" stroke="#5252ff" stroke-width="1.05" stroke-linejoin="round" />
<polyline points="208.1,268.0 208.2,266.8 208.3,265.6 208.4,264.4 208.5,263.1 208.6,261.9 208.7,260.7 208.8,259.5 208.9,258.3 209.0,257.1 209.1,255.9 209.2,254.6 209.3,253.4 209.4,252.2 209.5,251.0 209.6,249.8 209.7,248.6 209.8,247.4 209.9,246.1 210.0,244.9 210.1,243.7 210.2,242.5 210.3,241.3 210.4,240.1 210.5,238.9 210.6,237.6 210.7,236.4 210.8,235.2 210.8,234.0 210.9,232.8 211.0,231.6 211.1,230.4 211.2,229.1 211.3,227.9 211.4,226.7 211.5,225.5 211.6,224.3 211.7,223.1 211.8,221.9 211.9,220.6 212.0,219.4 212.1,218.2 212.2,217.0 212.3,215.8 212.4,214.6 212.5,213.4 212.6,212.1 212.7,210.9 212.8,209.7 212.9,208.5 213.0,207.3 213.1,206.1 213.2,204.9 213.3,203.6 213.4,202.4 213.5,201.2 213.6,200.0 213.6,198.8 213.7,197.6 213.7,196.4 213.7,195.2 213.8,194.0 213.8,192.8 213.9,191.6 213.9,190.4 213.9,189.2 214.0,188.0 214.0,186.8 214.0,185.6 214.1,184.4 214.1,183.2 214.1,182.0 214.2,180.8 214.2,179.6 214.2,178.4 214.3,177.2 214.3,176.0 214.4,174.8 214.4,173.6 214.4,172.4 214.5,171.2 214.5,170.0 214.6,168.8 214.6,167.6 214.7,166.3 214.8,165.1 214.9,163.9 214.9,162.7 215.0,161.5 215.1,160.3 215.1,159.0 215.2,157.8 215.3,156.6 215.3,155.4 215.4,154.2 215.5,153.0 215.6,151.7 215.6,150.5 215.7,149.3 215.8,148.1 215.8,146.9 215.8,145.7 215.9,144.5 215.9,143.2 216.0,142.0 216.0,140.8 216.1,139.6 216.1,138.4 216.2,137.0 216.8,135.7 217.3,134.0 217.9,133.2 218.8,132.2 219.7,131.2 220.5,130.1 221.4,129.3 222.8,129.7 224.3,129.7 225.7,129.4 226.5,130.5 227.4,131.5 228.2,132.1 229.1,132.9 230.0,133.8 230.8,135.0 231.7,135.6 232.6,136.7 233.5,138.0 234.4,139.0 235.3,140.4 236.1,141.1 236.9,142.6 237.8,143.0 238.6,144.2 239.4,145.4 240.2,146.7 241.2,147.1 242.2,148.0 243.1,148.5 244.1,149.2 245.1,150.4 245.9,151.0 246.7,152.8 247.5,153.6 248.2,154.5 249.0,155.4 249.7,157.0 250.5,157.8 251.2,158.3 252.1,160.0 253.1,160.7 254.0,162.0 254.9,162.9 256.1,163.6 257.3,164.2 258.5,164.0 259.7,165.4 260.9,166.1 262.1,166.0 263.4,166.5 264.6,166.2 265.8,167.2 267.1,167.9 268.3,168.5 269.5,168.8 270.7,169.5 271.9,170.3 273.2,170.5 274.4,171.3 275.6,172.3 276.8,173.3 277.2,174.5 277.6,175.7 278.1,176.9 278.5,178.2 278.9,179.4 279.3,180.6 279.6,181.8 279.9,183.1 280.2,184.3 280.5,185.5 280.8,186.7 281.1,187.9 281.4,189.2 281.7,190.4 282.1,191.6 282.4,192.9 282.8,194.1 283.1,195.3 283.5,196.5 283.8,197.8 284.2,198.9 285.4,200.0 286.6,201.2 287.8,201.3 289.1,200.6 290.3,200.8 291.5,199.9 292.7,200.2 293.9,199.9 295.2,199.0 296.4,199.0 297.6,198.2 298.8,197.1 300.0,196.5 300.7,197.4 301.5,198.3 302.2,199.7 303.0,200.3 303.7,201.7 304.9,201.2 306.1,200.7 307.4,200.7 308.6,200.4 309.8,200.3 311.1,200.2 312.3,200.1 313.5,200.0 314.7,200.8 315.9,201.1 317.2,201.5 318.4,201.8 319.6,202.4 320.8,203.5 322.1,204.0 323.3,204.4 324.5,205.1 325.4,206.0 326.3,207.2 327.2,207.7 328.1,209.3 329.6,209.6 331.0,210.5" fill="none" stroke="#f40000" stroke-width="1.05" stroke-linejoin="round" />
<polyline points="353.2,195.0 353.4,193.8 353.6,192.6 353.8,191.4 353.9,190.2 354.1,189.0 354.3,187.8 354.5,186.6 354.7,185.4 354.8,184.2 355.0,183.0 355.2,181.8 355.4,180.6 355.6,179.4 355.9,178.2 356.1,176.9 356.4,175.7 356.6,174.5 356.9,173.3 357.1,172.1 357.4,170.8 357.6,169.6 357.9,168.4 358.1,167.2 358.4,166.0 358.6,164.7 358.9,163.5 359.1,162.3 359.3,161.1 359.6,159.9 359.8,158.6 360.1,157.4 360.3,156.3 360.8,155.2 361.3,153.9 361.8,152.2 362.3,151.6 362.8,150.4 363.5,148.9 364.2,147.7 365.0,146.1 365.7,145.1 366.4,144.2 367.3,143.3 368.2,142.2 369.2,140.9 370.1,140.1 371.3,139.8 372.6,138.6 373.8,137.9 375.0,138.7 376.2,140.1 377.4,141.3 378.0,139.8 378.6,138.5 379.2,137.5 379.9,136.1 380.5,135.2 381.1,134.4 381.9,133.1 382.7,132.4 383.5,132.6 384.7,130.5 386.0,130.2 387.2,129.5 388.4,129.2 389.7,128.9 390.9,129.1 391.8,127.7 392.6,126.9 393.1,127.8 393.6,129.5 394.0,130.2 394.5,131.5 395.0,133.1 395.5,134.1 395.9,135.5 396.4,136.5 396.8,137.6 397.3,139.2 397.7,140.0 398.2,141.8 398.7,142.7 399.3,144.0 399.8,145.2 400.3,146.1 400.8,147.3 401.4,149.1 401.9,150.3 403.4,151.0 404.8,151.5 405.3,152.7 405.9,153.9 406.4,155.5 406.9,156.7 407.5,157.5 408.0,158.6 408.8,159.8 409.6,161.0 410.4,162.6 411.6,162.8 412.9,163.0 414.1,164.0 415.3,164.2 416.5,164.8 417.8,165.0 419.0,165.1 420.2,165.3 421.4,166.0 422.6,166.0 423.9,166.6 425.1,166.5 426.3,167.0 427.5,167.3 428.8,167.7 430.0,167.6 431.2,168.1 432.4,168.5 433.6,169.7 434.9,170.5 436.1,170.9 437.3,171.6 438.5,173.0 439.7,173.7 440.9,174.7 442.1,175.5 443.4,176.2 444.6,177.0 445.8,177.8 447.0,178.2 448.2,179.4 449.5,180.1 450.7,181.2 451.9,181.9 453.1,182.4 454.4,183.4 455.6,184.1 456.6,185.1 457.6,186.0 458.5,186.6 459.5,187.2 460.5,188.2 461.5,189.0 462.5,190.1 463.4,191.1 464.4,192.0 465.4,192.9 466.4,194.0 467.4,195.0 468.3,195.6 469.3,196.8 470.3,198.0 471.5,198.7 472.7,199.1 473.9,200.6 475.1,201.1 476.4,201.8 477.7,202.6 479.0,202.8" fill="none" stroke="#f40000" stroke-width="1.05" stroke-linejoin="round" />
<polyline points="351.2,268.0 351.2,266.8 351.3,265.6 351.3,264.4 351.3,263.2 351.4,262.0 351.4,260.8 351.4,259.6 351.5,258.4 351.5,257.2 351.6,256.0 351.6,254.8 351.6,253.6 351.7,252.4 351.7,251.2 351.7,250.0 351.8,248.8 351.8,247.6 351.8,246.4 351.9,245.2 351.9,244.0 351.9,242.8 352.0,241.6 352.0,240.4 352.0,239.2 352.1,238.0 352.1,236.8 352.1,235.6 352.2,234.4 352.2,233.2 352.2,232.0 352.3,230.8 352.3,229.6 352.4,228.4 352.4,227.2 352.4,226.0 352.5,224.8 352.5,223.6 352.5,222.4 352.6,221.2 352.6,220.0 352.6,218.8 352.7,217.5 352.7,216.2 352.7,215.0 352.8,213.8 352.8,212.5 352.8,211.2 352.8,210.0 352.9,208.8 352.9,207.5 352.9,206.2 353.0,205.0 353.0,203.8 353.0,202.5 353.1,201.2 353.1,200.0 353.1,198.8 353.1,197.5 353.2,196.2 353.2,195.0 353.4,193.6 353.6,192.2 353.8,190.8 354.0,189.4 354.2,188.2 355.0,186.8 355.9,185.2 356.7,184.3 357.9,183.4 359.1,182.4 360.3,183.6 361.5,184.3 362.7,183.7 364.0,183.7 365.2,183.3 366.4,182.5 367.7,181.1 368.9,180.8 370.1,181.1 371.3,182.4 372.5,183.4 373.3,184.1 374.2,185.4 375.0,187.0 375.6,188.0 376.2,189.4 376.8,190.0 377.4,191.6 377.8,190.4 378.2,189.2 378.6,187.9 379.1,186.7 379.5,185.5 379.9,184.4 381.1,184.4 382.3,184.3 382.7,183.1 383.1,181.9 383.5,180.6 383.9,179.4 384.3,178.2 384.6,177.0 384.9,175.8 385.2,174.5 385.5,173.3 385.8,172.1 386.1,170.8 386.4,169.6 386.7,168.7 387.5,166.9 388.3,165.8 389.1,164.7 390.9,165.5 391.0,164.2 391.1,163.0 391.2,161.7 391.4,160.4 391.5,159.1 391.6,157.9 391.7,156.6 391.8,155.3 391.9,154.0 392.0,152.8 392.1,151.5 392.3,150.2 392.4,148.9 392.5,147.7 392.6,146.4 393.0,147.6 393.3,148.9 393.6,150.1 394.0,151.3 394.2,152.5 394.3,153.7 394.5,155.0 394.7,156.2 394.9,157.4 395.0,158.6 395.2,159.8 395.4,161.1 395.5,162.3 395.7,163.5 395.9,164.7 396.2,165.9 396.4,167.2 396.7,168.4 396.9,169.6 397.2,170.8 397.4,172.0 397.7,173.3 397.9,174.5 398.2,175.7 398.5,176.9 398.7,178.1 399.0,179.4 399.3,180.6 399.5,181.8 399.8,183.0 400.1,184.3 400.3,185.5 400.6,186.5 401.1,187.6 401.6,189.0 402.1,190.4 402.6,191.5 403.1,192.5 404.3,191.5 405.5,191.1 405.9,192.4 406.3,193.5 406.8,194.4 407.2,195.4 407.6,196.8 408.0,197.7 409.2,198.3 410.4,199.2 411.6,197.7 412.8,195.6 413.7,197.7 414.6,198.4 415.6,199.4 416.5,200.6 417.7,200.7 418.9,201.2 420.2,201.6 421.4,201.9 422.6,202.4 423.9,203.5 425.1,204.0 426.3,204.7 427.5,205.4 428.8,206.0 430.0,206.5 431.2,206.8 432.4,207.8 433.6,208.5 434.9,209.4 436.1,210.5 437.1,211.3 438.0,211.5 439.0,212.7 439.9,213.0 440.9,213.6 441.7,215.1 442.5,215.9 443.4,216.6 444.2,218.0 445.0,219.3 445.8,220.1 446.8,221.0 447.8,220.5 448.7,221.9 449.7,222.9 450.7,223.6 451.9,224.3 453.1,224.7 454.4,225.4 455.6,226.1 456.6,226.7 457.6,227.5 458.5,228.4 459.5,229.1 460.5,229.9 461.5,230.3 462.5,231.5 463.4,232.1 464.4,232.6 465.4,233.2 466.1,234.5 466.8,236.0 467.6,236.8 468.3,238.6 469.0,239.6 470.2,239.9 471.5,240.3 472.7,240.6 474.0,240.5 475.2,240.6 476.5,240.9 477.7,240.3 479.0,240.7" fill="none" stroke="#5252ff" stroke-width="1.05" stroke-linejoin="round" />
<polyline points="506.4,268.0 506.4,266.8 506.5,265.6 506.5,264.3 506.6,263.1 506.6,261.9 506.7,260.7 506.7,259.4 506.8,258.2 506.8,257.0 506.9,255.8 506.9,254.6 507.0,253.3 507.0,252.1 507.1,250.9 507.1,249.7 507.2,248.4 507.2,247.2 507.3,246.0 507.3,244.8 507.4,243.6 507.4,242.3 507.4,241.1 507.5,239.9 507.5,238.7 507.6,237.4 507.6,236.2 507.7,235.0 507.7,233.8 507.8,232.5 507.8,231.3 507.9,230.1 507.9,228.9 508.0,227.7 508.0,226.4 508.1,225.2 508.1,224.0 508.2,222.8 508.2,221.5 508.3,220.3 508.3,219.1 508.4,217.9 508.5,216.7 508.6,215.4 508.7,214.2 508.8,213.0 508.9,211.8 509.0,210.5 509.1,209.3 509.2,208.1 509.3,206.8 509.4,205.6 509.5,204.4 509.6,203.2 509.7,201.9 509.8,200.7 509.9,199.5 510.0,198.2 510.1,197.0 510.2,195.8 510.3,194.5 510.4,193.2 510.5,192.0 510.5,190.8 510.6,189.5 510.7,188.2 510.8,187.0 510.9,185.8 511.0,184.5 511.1,183.2 511.2,182.0 511.3,180.8 511.5,179.5 511.6,178.3 511.7,177.0 511.9,175.8 512.0,174.6 512.1,173.3 512.3,172.1 512.4,170.8 512.5,169.6 512.7,168.4 512.8,167.1 512.9,165.9 513.1,164.6 513.2,163.4 513.5,162.2 513.7,160.9 514.0,159.7 514.2,158.5 514.5,157.3 514.7,156.1 515.0,154.8 515.2,153.5 515.7,152.6 516.2,151.4 516.7,149.9 517.1,148.7 517.6,147.6 518.1,146.7 519.0,145.7 519.9,145.1 520.7,144.2 521.6,143.6 522.7,144.1 523.8,144.1 524.9,144.7 525.9,145.3 526.8,146.4 527.8,147.1 528.8,147.5 530.0,148.6 531.2,149.1 532.3,149.9 533.5,150.8 534.7,151.1 535.7,150.5 536.6,149.7 537.6,149.0 538.5,147.4 539.4,146.1 540.2,144.8 541.1,144.1 542.5,143.2 543.2,144.3 543.8,145.6 544.5,147.0 545.5,145.8 546.4,144.5 547.6,144.3 548.8,143.7 549.6,144.5 550.5,145.4 551.3,146.6 551.8,147.6 552.3,148.8 552.8,150.1 553.2,151.0 553.7,152.5 554.2,153.8 554.8,154.6 555.4,155.9 556.0,157.5 556.6,158.1 557.2,159.3 557.8,160.7 558.4,161.5 558.9,162.9 559.5,164.5 560.1,165.4 560.7,166.7 561.3,168.0 561.8,169.1 562.4,170.0 563.0,170.9 563.8,171.9 564.6,173.0 565.3,174.0 566.1,174.8 566.9,175.8 567.7,176.7 568.5,178.1 569.3,178.9 570.1,179.9 570.9,181.2 571.7,182.0 572.5,182.7 573.2,183.8 574.0,185.2 574.8,185.6 575.8,186.9 576.8,188.9 577.7,189.1 578.7,189.6 579.7,190.5 580.7,191.8 581.6,192.6 582.6,193.9 583.2,195.1 583.8,196.2 584.3,197.0 584.9,197.3 585.5,199.5 586.3,200.7 587.1,201.9 587.8,202.7 588.6,203.6 589.4,205.0 590.7,205.0 591.9,206.0 593.2,204.7 594.5,205.3 595.7,205.2 597.0,205.0" fill="none" stroke="#f40000" stroke-width="1.05" stroke-linejoin="round" />
<polyline points="505.4,268.0 505.4,266.8 505.5,265.5 505.5,264.3 505.6,263.0 505.6,261.8 505.7,260.5 505.7,259.3 505.8,258.0 505.8,256.8 505.9,255.5 505.9,254.3 505.9,253.1 506.0,251.8 506.0,250.6 506.1,249.3 506.1,248.1 506.2,246.8 506.2,245.6 506.3,244.3 506.3,243.1 506.4,241.8 506.4,240.6 506.6,239.3 506.7,238.0 506.9,236.7 507.1,235.4 507.2,234.1 507.4,232.8 507.6,231.5 507.7,230.2 507.9,228.9 508.1,227.7 508.3,226.4 508.6,225.2 508.8,223.9 509.0,222.7 509.2,221.4 509.4,220.2 509.6,218.9 509.9,217.7 510.1,216.4 510.3,215.2 510.7,214.0 511.1,212.8 511.4,211.7 511.8,210.5 512.2,209.1 512.7,207.9 513.2,206.7 513.7,206.2 514.2,204.9 514.7,203.6 515.2,202.3 517.1,203.2 518.1,202.2 519.1,201.4 520.0,202.4 521.0,203.3 521.5,204.3 522.1,205.7 522.6,206.8 523.2,208.0 523.8,209.4 524.3,210.0 524.9,209.4 525.6,207.6 526.2,206.7 526.9,205.7 527.9,204.3 528.8,203.2 529.8,202.5 530.2,201.1 530.6,199.7 531.0,198.4 531.4,197.0 531.8,195.3 533.7,194.7 534.1,193.5 534.5,192.3 534.9,191.2 535.3,190.0 535.7,188.9 536.2,187.8 536.7,186.1 537.1,185.1 537.6,183.6 538.1,182.7 538.6,181.3 539.1,179.9 539.6,178.8 540.6,177.9 541.5,177.3 542.5,176.0 543.5,175.2 544.2,173.9 545.0,173.7 545.7,171.9 546.4,171.0 547.3,169.9 548.1,168.7 549.0,167.3 549.4,168.6 549.8,169.9 550.1,171.2 550.5,172.5 550.9,173.8 551.3,175.1 551.7,176.5 552.1,177.9 552.5,179.2 552.9,180.6 553.3,181.7 554.0,182.7 554.8,183.9 555.5,184.9 556.2,186.2 557.7,186.5 559.1,187.7 559.7,189.2 560.3,191.1 560.9,191.6 561.5,192.8 562.1,194.0 562.7,194.6 563.3,196.0 563.8,197.3 564.4,198.3 565.0,199.2 565.8,200.6 566.6,201.8 567.3,203.2 568.1,204.1 568.9,205.2 569.7,206.5 570.5,207.9 571.2,209.9 572.0,210.1 572.8,211.5 573.6,212.5 574.4,213.3 575.1,214.2 575.9,215.0 576.7,216.1 577.3,217.2 577.9,218.5 578.4,219.4 579.0,221.0 579.6,222.2 580.4,222.8 581.1,223.8 581.9,225.0 582.6,225.9 583.2,227.0 583.8,227.8 584.3,229.0 584.9,230.2 585.5,231.1 587.0,231.6 588.4,231.6 589.4,232.5 590.3,233.0 591.3,234.2 592.3,234.9 593.5,235.6 594.6,235.9 595.8,236.6 597.0,237.5" fill="none" stroke="#5252ff" stroke-width="1.05" stroke-linejoin="round" />
<line x1="187.5" y1="263" x2="187.5" y2="268" stroke="#f40000" stroke-width="1"/>
<line x1="482.5" y1="263" x2="482.5" y2="268" stroke="#f40000" stroke-width="1"/>
<line x1="113.5" y1="9" x2="113.5" y2="268" stroke="#000" stroke-width="1.1" stroke-dasharray="7.6 5.68" clip-path="url(#clipTop)"/>
<line x1="277.5" y1="9" x2="277.5" y2="268" stroke="#000" stroke-width="1.1" stroke-dasharray="7.6 5.68" clip-path="url(#clipTop)"/>
<line x1="391.5" y1="9" x2="391.5" y2="268" stroke="#000" stroke-width="1.1" stroke-dasharray="7.6 5.68" clip-path="url(#clipTop)"/>
<line x1="544.5" y1="9" x2="544.5" y2="268" stroke="#000" stroke-width="1.1" stroke-dasharray="7.6 5.68" clip-path="url(#clipTop)"/>
<text x="71.94" y="35.60" font-size="15.6" textLength="29.69" lengthAdjust="spacingAndGlyphs" fill="#000" >W07</text>
<text x="190.04" y="35.80" font-size="15.6" textLength="30.00" lengthAdjust="spacingAndGlyphs" fill="#000" >W78</text>
<text x="337.74" y="35.80" font-size="15.6" textLength="29.38" lengthAdjust="spacingAndGlyphs" fill="#000" >W27</text>
<text x="485.74" y="35.50" font-size="15.6" textLength="27.10" lengthAdjust="spacingAndGlyphs" fill="#000" >W51</text>
<text x="172.87" y="91.70" font-size="12.500212916962397" textLength="8.14" lengthAdjust="spacingAndGlyphs" fill="#333333" >H</text>
<text x="319.86" y="109.90" font-size="12.209510290986524" textLength="8.27" lengthAdjust="spacingAndGlyphs" fill="#333333" >H</text>
<text x="466.47" y="94.80" font-size="12.064158977998577" textLength="9.95" lengthAdjust="spacingAndGlyphs" fill="#333333" >H</text>
<text x="584.91" y="96.70" font-size="12.500212916962397" textLength="9.57" lengthAdjust="spacingAndGlyphs" fill="#333333" >H</text>
<text x="150.40" y="175.50" font-size="11.918807665010629" textLength="30.40" lengthAdjust="spacingAndGlyphs" fill="#f40000" >Ox10</text>
<text x="298.20" y="182.60" font-size="13.517672107877903" textLength="30.40" lengthAdjust="spacingAndGlyphs" fill="#f40000" >Ox10</text>
<text x="445.20" y="175.20" font-size="13.372320794889976" textLength="30.40" lengthAdjust="spacingAndGlyphs" fill="#f40000" >Ox10</text>
<text x="563.41" y="163.80" font-size="11.91880766501067" textLength="29.78" lengthAdjust="spacingAndGlyphs" fill="#f40000" >Ox10</text>
<text x="144.65" y="211.30" font-size="13.517672107877944" textLength="35.55" lengthAdjust="spacingAndGlyphs" fill="#5252ff" >Fex10</text>
<text x="292.95" y="229.00" font-size="13.081618168914124" textLength="35.65" lengthAdjust="spacingAndGlyphs" fill="#5252ff" >Fex10</text>
<text x="439.84" y="213.90" font-size="14.389779985805545" textLength="35.76" lengthAdjust="spacingAndGlyphs" fill="#5252ff" >Fex10</text>
<text x="557.03" y="246.10" font-size="13.663023420865871" textLength="36.18" lengthAdjust="spacingAndGlyphs" fill="#5252ff" >Fex10</text>
<text x="89.07" y="283.80" font-size="10.9" textLength="13.65" lengthAdjust="spacingAndGlyphs" fill="#000"  stroke="#000" stroke-width="0.2">15</text>
<text x="118.55" y="283.80" font-size="10.9" textLength="13.90" lengthAdjust="spacingAndGlyphs" fill="#000"  stroke="#000" stroke-width="0.2">16</text>
<text x="147.87" y="283.80" font-size="10.9" textLength="13.54" lengthAdjust="spacingAndGlyphs" fill="#000"  stroke="#000" stroke-width="0.2">17</text>
<text x="209.82" y="283.80" font-size="10.9" textLength="6.86" lengthAdjust="spacingAndGlyphs" fill="#000"  stroke="#000" stroke-width="0.2">9</text>
<text x="236.41" y="283.80" font-size="10.9" textLength="12.94" lengthAdjust="spacingAndGlyphs" fill="#000"  stroke="#000" stroke-width="0.2">10</text>
<text x="265.97" y="283.80" font-size="10.9" textLength="12.17" lengthAdjust="spacingAndGlyphs" fill="#000"  stroke="#000" stroke-width="0.2">11</text>
<text x="295.46" y="283.80" font-size="10.9" textLength="13.77" lengthAdjust="spacingAndGlyphs" fill="#000"  stroke="#000" stroke-width="0.2">12</text>
<text x="357.17" y="283.80" font-size="10.9" textLength="7.39" lengthAdjust="spacingAndGlyphs" fill="#000"  stroke="#000" stroke-width="0.2">5</text>
<text x="387.17" y="283.80" font-size="10.9" textLength="6.87" lengthAdjust="spacingAndGlyphs" fill="#000"  stroke="#000" stroke-width="0.2">6</text>
<text x="416.09" y="283.80" font-size="10.9" textLength="7.71" lengthAdjust="spacingAndGlyphs" fill="#000"  stroke="#000" stroke-width="0.2">7</text>
<text x="445.38" y="283.80" font-size="10.9" textLength="7.94" lengthAdjust="spacingAndGlyphs" fill="#000"  stroke="#000" stroke-width="0.2">8</text>
<text x="500.95" y="283.80" font-size="10.9" textLength="14.42" lengthAdjust="spacingAndGlyphs" fill="#000"  stroke="#000" stroke-width="0.2">23</text>
<text x="530.22" y="283.80" font-size="10.9" textLength="15.08" lengthAdjust="spacingAndGlyphs" fill="#000"  stroke="#000" stroke-width="0.2">24</text>
<text x="560.03" y="283.80" font-size="10.9" textLength="14.72" lengthAdjust="spacingAndGlyphs" fill="#000"  stroke="#000" stroke-width="0.2">25</text>
<text x="77.01" y="297.80" font-size="10.6" textLength="19.21" lengthAdjust="spacingAndGlyphs" fill="#000"  stroke="#000" stroke-width="0.2">Day</text>
<text x="102.17" y="297.80" font-size="10.6" textLength="10.62" lengthAdjust="spacingAndGlyphs" fill="#000"  stroke="#000" stroke-width="0.2">of</text>
<text x="118.42" y="297.80" font-size="10.6" textLength="20.10" lengthAdjust="spacingAndGlyphs" fill="#000"  stroke="#000" stroke-width="0.2">July</text>
<text x="144.76" y="297.80" font-size="10.6" textLength="28.13" lengthAdjust="spacingAndGlyphs" fill="#000"  stroke="#000" stroke-width="0.2">2000</text>
<text x="192.51" y="297.80" font-size="10.6" textLength="19.21" lengthAdjust="spacingAndGlyphs" fill="#000"  stroke="#000" stroke-width="0.2">Day</text>
<text x="217.93" y="297.80" font-size="10.6" textLength="11.25" lengthAdjust="spacingAndGlyphs" fill="#000"  stroke="#000" stroke-width="0.2">of</text>
<text x="234.65" y="297.80" font-size="10.6" textLength="53.54" lengthAdjust="spacingAndGlyphs" fill="#000"  stroke="#000" stroke-width="0.2">November</text>
<text x="294.27" y="297.80" font-size="10.6" textLength="28.03" lengthAdjust="spacingAndGlyphs" fill="#000"  stroke="#000" stroke-width="0.2">2000</text>
<text x="341.14" y="297.80" font-size="10.6" textLength="18.58" lengthAdjust="spacingAndGlyphs" fill="#000"  stroke="#000" stroke-width="0.2">Day</text>
<text x="365.39" y="297.80" font-size="10.6" textLength="10.20" lengthAdjust="spacingAndGlyphs" fill="#000"  stroke="#000" stroke-width="0.2">of</text>
<text x="382.04" y="297.80" font-size="10.6" textLength="54.16" lengthAdjust="spacingAndGlyphs" fill="#000"  stroke="#000" stroke-width="0.2">November</text>
<text x="441.10" y="297.80" font-size="10.6" textLength="26.69" lengthAdjust="spacingAndGlyphs" fill="#000"  stroke="#000" stroke-width="0.2">2001</text>
<text x="473.19" y="297.80" font-size="10.6" textLength="19.73" lengthAdjust="spacingAndGlyphs" fill="#000"  stroke="#000" stroke-width="0.2">Day</text>
<text x="498.44" y="297.80" font-size="10.6" textLength="11.04" lengthAdjust="spacingAndGlyphs" fill="#000"  stroke="#000" stroke-width="0.2">of</text>
<text x="514.64" y="297.80" font-size="10.6" textLength="54.26" lengthAdjust="spacingAndGlyphs" fill="#000"  stroke="#000" stroke-width="0.2">November</text>
<text x="574.31" y="297.80" font-size="10.6" textLength="26.27" lengthAdjust="spacingAndGlyphs" fill="#000"  stroke="#000" stroke-width="0.2">2001</text>
<text x="43.04" y="47.91" font-size="11.5" textLength="12.49" lengthAdjust="spacingAndGlyphs" fill="#000" >10</text>
<text x="56.88" y="42.51" font-size="11.5" textLength="5.30" lengthAdjust="spacingAndGlyphs" fill="#000" >4</text>
<text x="43.04" y="104.13" font-size="11.5" textLength="12.49" lengthAdjust="spacingAndGlyphs" fill="#000" >10</text>
<text x="56.57" y="98.73" font-size="11.5" textLength="5.86" lengthAdjust="spacingAndGlyphs" fill="#000" >2</text>
<text x="43.04" y="160.36" font-size="11.5" textLength="12.49" lengthAdjust="spacingAndGlyphs" fill="#000" >10</text>
<text x="56.71" y="154.96" font-size="11.5" textLength="5.58" lengthAdjust="spacingAndGlyphs" fill="#000" >0</text>
<text x="34.18" y="217.08" font-size="11.5" textLength="11.94" lengthAdjust="spacingAndGlyphs" fill="#000" >10</text>
<text x="47.56" y="211.38" font-size="11.5" textLength="14.90" lengthAdjust="spacingAndGlyphs" fill="#000" >−2</text>
<text x="34.18" y="273.30" font-size="11.5" textLength="11.94" lengthAdjust="spacingAndGlyphs" fill="#000" >10</text>
<text x="47.57" y="267.60" font-size="11.5" textLength="14.61" lengthAdjust="spacingAndGlyphs" fill="#000" >−4</text>
<text transform="translate(24.20,215.83) rotate(-90)" x="0" y="0" font-size="11.2" textLength="45.55" lengthAdjust="spacingAndGlyphs" fill="#000" >Intensity</text>
<text transform="translate(24.20,168.64) rotate(-90)" x="0" y="0" font-size="11.2" textLength="25.13" lengthAdjust="spacingAndGlyphs" fill="#000" >(cm</text>
<text transform="translate(17.30,144.06) rotate(-90)" x="0" y="0" font-size="8.959999999999999" textLength="7.32" lengthAdjust="spacingAndGlyphs" fill="#000" >2</text>
<text transform="translate(24.20,135.70) rotate(-90)" x="0" y="0" font-size="11.2" textLength="50.67" lengthAdjust="spacingAndGlyphs" fill="#000" >—sec—sr)</text>
<text transform="translate(17.90,84.65) rotate(-90)" x="0" y="0" font-size="8.959999999999999" textLength="15.10" lengthAdjust="spacingAndGlyphs" fill="#000" >−1</text>
<g stroke="#000" stroke-width="1" fill="none" shape-rendering="crispEdges">
<rect x="66.5" y="310.5" width="146" height="126"/>
<line x1="66.5" y1="427.02" x2="69.1" y2="427.02" stroke-width="0.95" shape-rendering="auto"/>
<line x1="212.5" y1="427.02" x2="209.9" y2="427.02" stroke-width="0.95" shape-rendering="auto"/>
<line x1="66.5" y1="421.47" x2="69.1" y2="421.47" stroke-width="0.95" shape-rendering="auto"/>
<line x1="212.5" y1="421.47" x2="209.9" y2="421.47" stroke-width="0.95" shape-rendering="auto"/>
<line x1="66.5" y1="417.54" x2="69.1" y2="417.54" stroke-width="0.95" shape-rendering="auto"/>
<line x1="212.5" y1="417.54" x2="209.9" y2="417.54" stroke-width="0.95" shape-rendering="auto"/>
<line x1="66.5" y1="414.48" x2="69.1" y2="414.48" stroke-width="0.95" shape-rendering="auto"/>
<line x1="212.5" y1="414.48" x2="209.9" y2="414.48" stroke-width="0.95" shape-rendering="auto"/>
<line x1="66.5" y1="411.99" x2="69.1" y2="411.99" stroke-width="0.95" shape-rendering="auto"/>
<line x1="212.5" y1="411.99" x2="209.9" y2="411.99" stroke-width="0.95" shape-rendering="auto"/>
<line x1="66.5" y1="409.88" x2="69.1" y2="409.88" stroke-width="0.95" shape-rendering="auto"/>
<line x1="212.5" y1="409.88" x2="209.9" y2="409.88" stroke-width="0.95" shape-rendering="auto"/>
<line x1="66.5" y1="408.05" x2="69.1" y2="408.05" stroke-width="0.95" shape-rendering="auto"/>
<line x1="212.5" y1="408.05" x2="209.9" y2="408.05" stroke-width="0.95" shape-rendering="auto"/>
<line x1="66.5" y1="406.44" x2="69.1" y2="406.44" stroke-width="0.95" shape-rendering="auto"/>
<line x1="212.5" y1="406.44" x2="209.9" y2="406.44" stroke-width="0.95" shape-rendering="auto"/>
<line x1="66.5" y1="404.5" x2="70.0" y2="404.5"/>
<line x1="212.5" y1="404.5" x2="209.0" y2="404.5"/>
<line x1="66.5" y1="395.52" x2="69.1" y2="395.52" stroke-width="0.95" shape-rendering="auto"/>
<line x1="212.5" y1="395.52" x2="209.9" y2="395.52" stroke-width="0.95" shape-rendering="auto"/>
<line x1="66.5" y1="389.97" x2="69.1" y2="389.97" stroke-width="0.95" shape-rendering="auto"/>
<line x1="212.5" y1="389.97" x2="209.9" y2="389.97" stroke-width="0.95" shape-rendering="auto"/>
<line x1="66.5" y1="386.04" x2="69.1" y2="386.04" stroke-width="0.95" shape-rendering="auto"/>
<line x1="212.5" y1="386.04" x2="209.9" y2="386.04" stroke-width="0.95" shape-rendering="auto"/>
<line x1="66.5" y1="382.98" x2="69.1" y2="382.98" stroke-width="0.95" shape-rendering="auto"/>
<line x1="212.5" y1="382.98" x2="209.9" y2="382.98" stroke-width="0.95" shape-rendering="auto"/>
<line x1="66.5" y1="380.49" x2="69.1" y2="380.49" stroke-width="0.95" shape-rendering="auto"/>
<line x1="212.5" y1="380.49" x2="209.9" y2="380.49" stroke-width="0.95" shape-rendering="auto"/>
<line x1="66.5" y1="378.38" x2="69.1" y2="378.38" stroke-width="0.95" shape-rendering="auto"/>
<line x1="212.5" y1="378.38" x2="209.9" y2="378.38" stroke-width="0.95" shape-rendering="auto"/>
<line x1="66.5" y1="376.55" x2="69.1" y2="376.55" stroke-width="0.95" shape-rendering="auto"/>
<line x1="212.5" y1="376.55" x2="209.9" y2="376.55" stroke-width="0.95" shape-rendering="auto"/>
<line x1="66.5" y1="374.94" x2="69.1" y2="374.94" stroke-width="0.95" shape-rendering="auto"/>
<line x1="212.5" y1="374.94" x2="209.9" y2="374.94" stroke-width="0.95" shape-rendering="auto"/>
<line x1="66.5" y1="372.5" x2="70.0" y2="372.5"/>
<line x1="212.5" y1="372.5" x2="209.0" y2="372.5"/>
<line x1="66.5" y1="364.02" x2="69.1" y2="364.02" stroke-width="0.95" shape-rendering="auto"/>
<line x1="212.5" y1="364.02" x2="209.9" y2="364.02" stroke-width="0.95" shape-rendering="auto"/>
<line x1="66.5" y1="358.47" x2="69.1" y2="358.47" stroke-width="0.95" shape-rendering="auto"/>
<line x1="212.5" y1="358.47" x2="209.9" y2="358.47" stroke-width="0.95" shape-rendering="auto"/>
<line x1="66.5" y1="354.54" x2="69.1" y2="354.54" stroke-width="0.95" shape-rendering="auto"/>
<line x1="212.5" y1="354.54" x2="209.9" y2="354.54" stroke-width="0.95" shape-rendering="auto"/>
<line x1="66.5" y1="351.48" x2="69.1" y2="351.48" stroke-width="0.95" shape-rendering="auto"/>
<line x1="212.5" y1="351.48" x2="209.9" y2="351.48" stroke-width="0.95" shape-rendering="auto"/>
<line x1="66.5" y1="348.99" x2="69.1" y2="348.99" stroke-width="0.95" shape-rendering="auto"/>
<line x1="212.5" y1="348.99" x2="209.9" y2="348.99" stroke-width="0.95" shape-rendering="auto"/>
<line x1="66.5" y1="346.88" x2="69.1" y2="346.88" stroke-width="0.95" shape-rendering="auto"/>
<line x1="212.5" y1="346.88" x2="209.9" y2="346.88" stroke-width="0.95" shape-rendering="auto"/>
<line x1="66.5" y1="345.05" x2="69.1" y2="345.05" stroke-width="0.95" shape-rendering="auto"/>
<line x1="212.5" y1="345.05" x2="209.9" y2="345.05" stroke-width="0.95" shape-rendering="auto"/>
<line x1="66.5" y1="343.44" x2="69.1" y2="343.44" stroke-width="0.95" shape-rendering="auto"/>
<line x1="212.5" y1="343.44" x2="209.9" y2="343.44" stroke-width="0.95" shape-rendering="auto"/>
<line x1="66.5" y1="341.5" x2="70.0" y2="341.5"/>
<line x1="212.5" y1="341.5" x2="209.0" y2="341.5"/>
<line x1="66.5" y1="332.52" x2="69.1" y2="332.52" stroke-width="0.95" shape-rendering="auto"/>
<line x1="212.5" y1="332.52" x2="209.9" y2="332.52" stroke-width="0.95" shape-rendering="auto"/>
<line x1="66.5" y1="326.97" x2="69.1" y2="326.97" stroke-width="0.95" shape-rendering="auto"/>
<line x1="212.5" y1="326.97" x2="209.9" y2="326.97" stroke-width="0.95" shape-rendering="auto"/>
<line x1="66.5" y1="323.04" x2="69.1" y2="323.04" stroke-width="0.95" shape-rendering="auto"/>
<line x1="212.5" y1="323.04" x2="209.9" y2="323.04" stroke-width="0.95" shape-rendering="auto"/>
<line x1="66.5" y1="319.98" x2="69.1" y2="319.98" stroke-width="0.95" shape-rendering="auto"/>
<line x1="212.5" y1="319.98" x2="209.9" y2="319.98" stroke-width="0.95" shape-rendering="auto"/>
<line x1="66.5" y1="317.49" x2="69.1" y2="317.49" stroke-width="0.95" shape-rendering="auto"/>
<line x1="212.5" y1="317.49" x2="209.9" y2="317.49" stroke-width="0.95" shape-rendering="auto"/>
<line x1="66.5" y1="315.38" x2="69.1" y2="315.38" stroke-width="0.95" shape-rendering="auto"/>
<line x1="212.5" y1="315.38" x2="209.9" y2="315.38" stroke-width="0.95" shape-rendering="auto"/>
<line x1="66.5" y1="313.55" x2="69.1" y2="313.55" stroke-width="0.95" shape-rendering="auto"/>
<line x1="212.5" y1="313.55" x2="209.9" y2="313.55" stroke-width="0.95" shape-rendering="auto"/>
<line x1="66.5" y1="311.94" x2="69.1" y2="311.94" stroke-width="0.95" shape-rendering="auto"/>
<line x1="212.5" y1="311.94" x2="209.9" y2="311.94" stroke-width="0.95" shape-rendering="auto"/>
<line x1="96.5" y1="310" x2="96.5" y2="312.5"/>
<line x1="125.5" y1="310" x2="125.5" y2="312.5"/>
<line x1="155.5" y1="310" x2="155.5" y2="312.5"/>
<line x1="184.5" y1="310" x2="184.5" y2="312.5"/>
<rect x="261.5" y="310.5" width="147" height="126"/>
<line x1="261.5" y1="427.02" x2="264.1" y2="427.02" stroke-width="0.95" shape-rendering="auto"/>
<line x1="408.5" y1="427.02" x2="405.9" y2="427.02" stroke-width="0.95" shape-rendering="auto"/>
<line x1="261.5" y1="421.47" x2="264.1" y2="421.47" stroke-width="0.95" shape-rendering="auto"/>
<line x1="408.5" y1="421.47" x2="405.9" y2="421.47" stroke-width="0.95" shape-rendering="auto"/>
<line x1="261.5" y1="417.54" x2="264.1" y2="417.54" stroke-width="0.95" shape-rendering="auto"/>
<line x1="408.5" y1="417.54" x2="405.9" y2="417.54" stroke-width="0.95" shape-rendering="auto"/>
<line x1="261.5" y1="414.48" x2="264.1" y2="414.48" stroke-width="0.95" shape-rendering="auto"/>
<line x1="408.5" y1="414.48" x2="405.9" y2="414.48" stroke-width="0.95" shape-rendering="auto"/>
<line x1="261.5" y1="411.99" x2="264.1" y2="411.99" stroke-width="0.95" shape-rendering="auto"/>
<line x1="408.5" y1="411.99" x2="405.9" y2="411.99" stroke-width="0.95" shape-rendering="auto"/>
<line x1="261.5" y1="409.88" x2="264.1" y2="409.88" stroke-width="0.95" shape-rendering="auto"/>
<line x1="408.5" y1="409.88" x2="405.9" y2="409.88" stroke-width="0.95" shape-rendering="auto"/>
<line x1="261.5" y1="408.05" x2="264.1" y2="408.05" stroke-width="0.95" shape-rendering="auto"/>
<line x1="408.5" y1="408.05" x2="405.9" y2="408.05" stroke-width="0.95" shape-rendering="auto"/>
<line x1="261.5" y1="406.44" x2="264.1" y2="406.44" stroke-width="0.95" shape-rendering="auto"/>
<line x1="408.5" y1="406.44" x2="405.9" y2="406.44" stroke-width="0.95" shape-rendering="auto"/>
<line x1="261.5" y1="404.5" x2="265.0" y2="404.5"/>
<line x1="408.5" y1="404.5" x2="405.0" y2="404.5"/>
<line x1="261.5" y1="395.52" x2="264.1" y2="395.52" stroke-width="0.95" shape-rendering="auto"/>
<line x1="408.5" y1="395.52" x2="405.9" y2="395.52" stroke-width="0.95" shape-rendering="auto"/>
<line x1="261.5" y1="389.97" x2="264.1" y2="389.97" stroke-width="0.95" shape-rendering="auto"/>
<line x1="408.5" y1="389.97" x2="405.9" y2="389.97" stroke-width="0.95" shape-rendering="auto"/>
<line x1="261.5" y1="386.04" x2="264.1" y2="386.04" stroke-width="0.95" shape-rendering="auto"/>
<line x1="408.5" y1="386.04" x2="405.9" y2="386.04" stroke-width="0.95" shape-rendering="auto"/>
<line x1="261.5" y1="382.98" x2="264.1" y2="382.98" stroke-width="0.95" shape-rendering="auto"/>
<line x1="408.5" y1="382.98" x2="405.9" y2="382.98" stroke-width="0.95" shape-rendering="auto"/>
<line x1="261.5" y1="380.49" x2="264.1" y2="380.49" stroke-width="0.95" shape-rendering="auto"/>
<line x1="408.5" y1="380.49" x2="405.9" y2="380.49" stroke-width="0.95" shape-rendering="auto"/>
<line x1="261.5" y1="378.38" x2="264.1" y2="378.38" stroke-width="0.95" shape-rendering="auto"/>
<line x1="408.5" y1="378.38" x2="405.9" y2="378.38" stroke-width="0.95" shape-rendering="auto"/>
<line x1="261.5" y1="376.55" x2="264.1" y2="376.55" stroke-width="0.95" shape-rendering="auto"/>
<line x1="408.5" y1="376.55" x2="405.9" y2="376.55" stroke-width="0.95" shape-rendering="auto"/>
<line x1="261.5" y1="374.94" x2="264.1" y2="374.94" stroke-width="0.95" shape-rendering="auto"/>
<line x1="408.5" y1="374.94" x2="405.9" y2="374.94" stroke-width="0.95" shape-rendering="auto"/>
<line x1="261.5" y1="372.5" x2="265.0" y2="372.5"/>
<line x1="408.5" y1="372.5" x2="405.0" y2="372.5"/>
<line x1="261.5" y1="364.02" x2="264.1" y2="364.02" stroke-width="0.95" shape-rendering="auto"/>
<line x1="408.5" y1="364.02" x2="405.9" y2="364.02" stroke-width="0.95" shape-rendering="auto"/>
<line x1="261.5" y1="358.47" x2="264.1" y2="358.47" stroke-width="0.95" shape-rendering="auto"/>
<line x1="408.5" y1="358.47" x2="405.9" y2="358.47" stroke-width="0.95" shape-rendering="auto"/>
<line x1="261.5" y1="354.54" x2="264.1" y2="354.54" stroke-width="0.95" shape-rendering="auto"/>
<line x1="408.5" y1="354.54" x2="405.9" y2="354.54" stroke-width="0.95" shape-rendering="auto"/>
<line x1="261.5" y1="351.48" x2="264.1" y2="351.48" stroke-width="0.95" shape-rendering="auto"/>
<line x1="408.5" y1="351.48" x2="405.9" y2="351.48" stroke-width="0.95" shape-rendering="auto"/>
<line x1="261.5" y1="348.99" x2="264.1" y2="348.99" stroke-width="0.95" shape-rendering="auto"/>
<line x1="408.5" y1="348.99" x2="405.9" y2="348.99" stroke-width="0.95" shape-rendering="auto"/>
<line x1="261.5" y1="346.88" x2="264.1" y2="346.88" stroke-width="0.95" shape-rendering="auto"/>
<line x1="408.5" y1="346.88" x2="405.9" y2="346.88" stroke-width="0.95" shape-rendering="auto"/>
<line x1="261.5" y1="345.05" x2="264.1" y2="345.05" stroke-width="0.95" shape-rendering="auto"/>
<line x1="408.5" y1="345.05" x2="405.9" y2="345.05" stroke-width="0.95" shape-rendering="auto"/>
<line x1="261.5" y1="343.44" x2="264.1" y2="343.44" stroke-width="0.95" shape-rendering="auto"/>
<line x1="408.5" y1="343.44" x2="405.9" y2="343.44" stroke-width="0.95" shape-rendering="auto"/>
<line x1="261.5" y1="341.5" x2="265.0" y2="341.5"/>
<line x1="408.5" y1="341.5" x2="405.0" y2="341.5"/>
<line x1="261.5" y1="332.52" x2="264.1" y2="332.52" stroke-width="0.95" shape-rendering="auto"/>
<line x1="408.5" y1="332.52" x2="405.9" y2="332.52" stroke-width="0.95" shape-rendering="auto"/>
<line x1="261.5" y1="326.97" x2="264.1" y2="326.97" stroke-width="0.95" shape-rendering="auto"/>
<line x1="408.5" y1="326.97" x2="405.9" y2="326.97" stroke-width="0.95" shape-rendering="auto"/>
<line x1="261.5" y1="323.04" x2="264.1" y2="323.04" stroke-width="0.95" shape-rendering="auto"/>
<line x1="408.5" y1="323.04" x2="405.9" y2="323.04" stroke-width="0.95" shape-rendering="auto"/>
<line x1="261.5" y1="319.98" x2="264.1" y2="319.98" stroke-width="0.95" shape-rendering="auto"/>
<line x1="408.5" y1="319.98" x2="405.9" y2="319.98" stroke-width="0.95" shape-rendering="auto"/>
<line x1="261.5" y1="317.49" x2="264.1" y2="317.49" stroke-width="0.95" shape-rendering="auto"/>
<line x1="408.5" y1="317.49" x2="405.9" y2="317.49" stroke-width="0.95" shape-rendering="auto"/>
<line x1="261.5" y1="315.38" x2="264.1" y2="315.38" stroke-width="0.95" shape-rendering="auto"/>
<line x1="408.5" y1="315.38" x2="405.9" y2="315.38" stroke-width="0.95" shape-rendering="auto"/>
<line x1="261.5" y1="313.55" x2="264.1" y2="313.55" stroke-width="0.95" shape-rendering="auto"/>
<line x1="408.5" y1="313.55" x2="405.9" y2="313.55" stroke-width="0.95" shape-rendering="auto"/>
<line x1="261.5" y1="311.94" x2="264.1" y2="311.94" stroke-width="0.95" shape-rendering="auto"/>
<line x1="408.5" y1="311.94" x2="405.9" y2="311.94" stroke-width="0.95" shape-rendering="auto"/>
<line x1="291.5" y1="310" x2="291.5" y2="312.5"/>
<line x1="320.5" y1="310" x2="320.5" y2="312.5"/>
<line x1="350.5" y1="310" x2="350.5" y2="312.5"/>
<line x1="379.5" y1="310" x2="379.5" y2="312.5"/>
<rect x="455.5" y="310.5" width="147" height="126"/>
<line x1="455.5" y1="427.02" x2="458.1" y2="427.02" stroke-width="0.95" shape-rendering="auto"/>
<line x1="602.5" y1="427.02" x2="599.9" y2="427.02" stroke-width="0.95" shape-rendering="auto"/>
<line x1="455.5" y1="421.47" x2="458.1" y2="421.47" stroke-width="0.95" shape-rendering="auto"/>
<line x1="602.5" y1="421.47" x2="599.9" y2="421.47" stroke-width="0.95" shape-rendering="auto"/>
<line x1="455.5" y1="417.54" x2="458.1" y2="417.54" stroke-width="0.95" shape-rendering="auto"/>
<line x1="602.5" y1="417.54" x2="599.9" y2="417.54" stroke-width="0.95" shape-rendering="auto"/>
<line x1="455.5" y1="414.48" x2="458.1" y2="414.48" stroke-width="0.95" shape-rendering="auto"/>
<line x1="602.5" y1="414.48" x2="599.9" y2="414.48" stroke-width="0.95" shape-rendering="auto"/>
<line x1="455.5" y1="411.99" x2="458.1" y2="411.99" stroke-width="0.95" shape-rendering="auto"/>
<line x1="602.5" y1="411.99" x2="599.9" y2="411.99" stroke-width="0.95" shape-rendering="auto"/>
<line x1="455.5" y1="409.88" x2="458.1" y2="409.88" stroke-width="0.95" shape-rendering="auto"/>
<line x1="602.5" y1="409.88" x2="599.9" y2="409.88" stroke-width="0.95" shape-rendering="auto"/>
<line x1="455.5" y1="408.05" x2="458.1" y2="408.05" stroke-width="0.95" shape-rendering="auto"/>
<line x1="602.5" y1="408.05" x2="599.9" y2="408.05" stroke-width="0.95" shape-rendering="auto"/>
<line x1="455.5" y1="406.44" x2="458.1" y2="406.44" stroke-width="0.95" shape-rendering="auto"/>
<line x1="602.5" y1="406.44" x2="599.9" y2="406.44" stroke-width="0.95" shape-rendering="auto"/>
<line x1="455.5" y1="404.5" x2="459.0" y2="404.5"/>
<line x1="602.5" y1="404.5" x2="599.0" y2="404.5"/>
<line x1="455.5" y1="395.52" x2="458.1" y2="395.52" stroke-width="0.95" shape-rendering="auto"/>
<line x1="602.5" y1="395.52" x2="599.9" y2="395.52" stroke-width="0.95" shape-rendering="auto"/>
<line x1="455.5" y1="389.97" x2="458.1" y2="389.97" stroke-width="0.95" shape-rendering="auto"/>
<line x1="602.5" y1="389.97" x2="599.9" y2="389.97" stroke-width="0.95" shape-rendering="auto"/>
<line x1="455.5" y1="386.04" x2="458.1" y2="386.04" stroke-width="0.95" shape-rendering="auto"/>
<line x1="602.5" y1="386.04" x2="599.9" y2="386.04" stroke-width="0.95" shape-rendering="auto"/>
<line x1="455.5" y1="382.98" x2="458.1" y2="382.98" stroke-width="0.95" shape-rendering="auto"/>
<line x1="602.5" y1="382.98" x2="599.9" y2="382.98" stroke-width="0.95" shape-rendering="auto"/>
<line x1="455.5" y1="380.49" x2="458.1" y2="380.49" stroke-width="0.95" shape-rendering="auto"/>
<line x1="602.5" y1="380.49" x2="599.9" y2="380.49" stroke-width="0.95" shape-rendering="auto"/>
<line x1="455.5" y1="378.38" x2="458.1" y2="378.38" stroke-width="0.95" shape-rendering="auto"/>
<line x1="602.5" y1="378.38" x2="599.9" y2="378.38" stroke-width="0.95" shape-rendering="auto"/>
<line x1="455.5" y1="376.55" x2="458.1" y2="376.55" stroke-width="0.95" shape-rendering="auto"/>
<line x1="602.5" y1="376.55" x2="599.9" y2="376.55" stroke-width="0.95" shape-rendering="auto"/>
<line x1="455.5" y1="374.94" x2="458.1" y2="374.94" stroke-width="0.95" shape-rendering="auto"/>
<line x1="602.5" y1="374.94" x2="599.9" y2="374.94" stroke-width="0.95" shape-rendering="auto"/>
<line x1="455.5" y1="372.5" x2="459.0" y2="372.5"/>
<line x1="602.5" y1="372.5" x2="599.0" y2="372.5"/>
<line x1="455.5" y1="364.02" x2="458.1" y2="364.02" stroke-width="0.95" shape-rendering="auto"/>
<line x1="602.5" y1="364.02" x2="599.9" y2="364.02" stroke-width="0.95" shape-rendering="auto"/>
<line x1="455.5" y1="358.47" x2="458.1" y2="358.47" stroke-width="0.95" shape-rendering="auto"/>
<line x1="602.5" y1="358.47" x2="599.9" y2="358.47" stroke-width="0.95" shape-rendering="auto"/>
<line x1="455.5" y1="354.54" x2="458.1" y2="354.54" stroke-width="0.95" shape-rendering="auto"/>
<line x1="602.5" y1="354.54" x2="599.9" y2="354.54" stroke-width="0.95" shape-rendering="auto"/>
<line x1="455.5" y1="351.48" x2="458.1" y2="351.48" stroke-width="0.95" shape-rendering="auto"/>
<line x1="602.5" y1="351.48" x2="599.9" y2="351.48" stroke-width="0.95" shape-rendering="auto"/>
<line x1="455.5" y1="348.99" x2="458.1" y2="348.99" stroke-width="0.95" shape-rendering="auto"/>
<line x1="602.5" y1="348.99" x2="599.9" y2="348.99" stroke-width="0.95" shape-rendering="auto"/>
<line x1="455.5" y1="346.88" x2="458.1" y2="346.88" stroke-width="0.95" shape-rendering="auto"/>
<line x1="602.5" y1="346.88" x2="599.9" y2="346.88" stroke-width="0.95" shape-rendering="auto"/>
<line x1="455.5" y1="345.05" x2="458.1" y2="345.05" stroke-width="0.95" shape-rendering="auto"/>
<line x1="602.5" y1="345.05" x2="599.9" y2="345.05" stroke-width="0.95" shape-rendering="auto"/>
<line x1="455.5" y1="343.44" x2="458.1" y2="343.44" stroke-width="0.95" shape-rendering="auto"/>
<line x1="602.5" y1="343.44" x2="599.9" y2="343.44" stroke-width="0.95" shape-rendering="auto"/>
<line x1="455.5" y1="341.5" x2="459.0" y2="341.5"/>
<line x1="602.5" y1="341.5" x2="599.0" y2="341.5"/>
<line x1="455.5" y1="332.52" x2="458.1" y2="332.52" stroke-width="0.95" shape-rendering="auto"/>
<line x1="602.5" y1="332.52" x2="599.9" y2="332.52" stroke-width="0.95" shape-rendering="auto"/>
<line x1="455.5" y1="326.97" x2="458.1" y2="326.97" stroke-width="0.95" shape-rendering="auto"/>
<line x1="602.5" y1="326.97" x2="599.9" y2="326.97" stroke-width="0.95" shape-rendering="auto"/>
<line x1="455.5" y1="323.04" x2="458.1" y2="323.04" stroke-width="0.95" shape-rendering="auto"/>
<line x1="602.5" y1="323.04" x2="599.9" y2="323.04" stroke-width="0.95" shape-rendering="auto"/>
<line x1="455.5" y1="319.98" x2="458.1" y2="319.98" stroke-width="0.95" shape-rendering="auto"/>
<line x1="602.5" y1="319.98" x2="599.9" y2="319.98" stroke-width="0.95" shape-rendering="auto"/>
<line x1="455.5" y1="317.49" x2="458.1" y2="317.49" stroke-width="0.95" shape-rendering="auto"/>
<line x1="602.5" y1="317.49" x2="599.9" y2="317.49" stroke-width="0.95" shape-rendering="auto"/>
<line x1="455.5" y1="315.38" x2="458.1" y2="315.38" stroke-width="0.95" shape-rendering="auto"/>
<line x1="602.5" y1="315.38" x2="599.9" y2="315.38" stroke-width="0.95" shape-rendering="auto"/>
<line x1="455.5" y1="313.55" x2="458.1" y2="313.55" stroke-width="0.95" shape-rendering="auto"/>
<line x1="602.5" y1="313.55" x2="599.9" y2="313.55" stroke-width="0.95" shape-rendering="auto"/>
<line x1="455.5" y1="311.94" x2="458.1" y2="311.94" stroke-width="0.95" shape-rendering="auto"/>
<line x1="602.5" y1="311.94" x2="599.9" y2="311.94" stroke-width="0.95" shape-rendering="auto"/>
<line x1="485.5" y1="310" x2="485.5" y2="312.5"/>
<line x1="514.5" y1="310" x2="514.5" y2="312.5"/>
<line x1="544.5" y1="310" x2="544.5" y2="312.5"/>
<line x1="573.5" y1="310" x2="573.5" y2="312.5"/>
</g>
<rect x="82" y="329" width="28" height="107" fill="#646464"/>
<rect x="112" y="336" width="27" height="100" fill="#646464"/>
<rect x="141" y="325" width="28" height="111" fill="#646464"/>
<rect x="171" y="333" width="27" height="103" fill="#646464"/>
<rect x="277" y="338" width="27" height="98" fill="#646464"/>
<rect x="306" y="343" width="28" height="93" fill="#646464"/>
<rect x="336" y="339" width="27" height="97" fill="#646464"/>
<rect x="365" y="347" width="28" height="89" fill="#646464"/>
<rect x="470" y="370" width="15" height="66" fill="#5252ff"/>
<rect x="485" y="339" width="15" height="97" fill="#f40000"/>
<rect x="499" y="405" width="15" height="31" fill="#5252ff"/>
<rect x="514" y="354" width="16" height="82" fill="#f40000"/>
<rect x="529" y="385" width="14" height="51" fill="#5252ff"/>
<rect x="543" y="347" width="16" height="89" fill="#f40000"/>
<rect x="558" y="398" width="15" height="38" fill="#5252ff"/>
<rect x="573" y="359" width="16" height="77" fill="#f40000"/>
<line x1="66" y1="436.5" x2="213" y2="436.5" stroke="#000" stroke-width="1" shape-rendering="crispEdges"/>
<line x1="261" y1="436.5" x2="409" y2="436.5" stroke="#000" stroke-width="1" shape-rendering="crispEdges"/>
<line x1="455" y1="436.5" x2="603" y2="436.5" stroke="#000" stroke-width="1" shape-rendering="crispEdges"/>
<text x="488.15" y="332.90" font-size="12.209510290986517" textLength="7.41" lengthAdjust="spacingAndGlyphs" fill="#f40000" >O</text>
<text x="471.01" y="363.90" font-size="11.482753726046843" textLength="12.67" lengthAdjust="spacingAndGlyphs" fill="#5252ff" >Fe</text>
<text x="85.11" y="449.20" font-size="8.3" textLength="21.67" lengthAdjust="spacingAndGlyphs" fill="#000"  stroke="#000" stroke-width="0.3">2000</text>
<text x="90.05" y="456.50" font-size="8.3" textLength="12.40" lengthAdjust="spacingAndGlyphs" fill="#000"  stroke="#000" stroke-width="0.3">Jul</text>
<text x="114.61" y="449.20" font-size="8.3" textLength="21.67" lengthAdjust="spacingAndGlyphs" fill="#000"  stroke="#000" stroke-width="0.3">2000</text>
<text x="116.94" y="456.50" font-size="8.3" textLength="16.39" lengthAdjust="spacingAndGlyphs" fill="#000"  stroke="#000" stroke-width="0.3">Nov</text>
<text x="144.11" y="449.20" font-size="8.3" textLength="21.77" lengthAdjust="spacingAndGlyphs" fill="#000"  stroke="#000" stroke-width="0.3">2001</text>
<text x="146.44" y="456.50" font-size="8.3" textLength="16.39" lengthAdjust="spacingAndGlyphs" fill="#000"  stroke="#000" stroke-width="0.3">Nov</text>
<text x="173.61" y="449.20" font-size="8.3" textLength="21.77" lengthAdjust="spacingAndGlyphs" fill="#000"  stroke="#000" stroke-width="0.3">2001</text>
<text x="175.94" y="456.50" font-size="8.3" textLength="16.39" lengthAdjust="spacingAndGlyphs" fill="#000"  stroke="#000" stroke-width="0.3">Nov</text>
<text x="280.11" y="449.20" font-size="8.3" textLength="21.67" lengthAdjust="spacingAndGlyphs" fill="#000"  stroke="#000" stroke-width="0.3">2000</text>
<text x="285.05" y="456.50" font-size="8.3" textLength="12.40" lengthAdjust="spacingAndGlyphs" fill="#000"  stroke="#000" stroke-width="0.3">Jul</text>
<text x="309.61" y="449.20" font-size="8.3" textLength="21.67" lengthAdjust="spacingAndGlyphs" fill="#000"  stroke="#000" stroke-width="0.3">2000</text>
<text x="311.94" y="456.50" font-size="8.3" textLength="16.39" lengthAdjust="spacingAndGlyphs" fill="#000"  stroke="#000" stroke-width="0.3">Nov</text>
<text x="339.11" y="449.20" font-size="8.3" textLength="21.77" lengthAdjust="spacingAndGlyphs" fill="#000"  stroke="#000" stroke-width="0.3">2001</text>
<text x="341.44" y="456.50" font-size="8.3" textLength="16.39" lengthAdjust="spacingAndGlyphs" fill="#000"  stroke="#000" stroke-width="0.3">Nov</text>
<text x="368.61" y="449.20" font-size="8.3" textLength="21.77" lengthAdjust="spacingAndGlyphs" fill="#000"  stroke="#000" stroke-width="0.3">2001</text>
<text x="370.94" y="456.50" font-size="8.3" textLength="16.39" lengthAdjust="spacingAndGlyphs" fill="#000"  stroke="#000" stroke-width="0.3">Nov</text>
<text x="474.11" y="449.20" font-size="8.3" textLength="21.67" lengthAdjust="spacingAndGlyphs" fill="#000"  stroke="#000" stroke-width="0.3">2000</text>
<text x="479.05" y="456.50" font-size="8.3" textLength="12.40" lengthAdjust="spacingAndGlyphs" fill="#000"  stroke="#000" stroke-width="0.3">Jul</text>
<text x="503.61" y="449.20" font-size="8.3" textLength="21.67" lengthAdjust="spacingAndGlyphs" fill="#000"  stroke="#000" stroke-width="0.3">2000</text>
<text x="505.94" y="456.50" font-size="8.3" textLength="16.39" lengthAdjust="spacingAndGlyphs" fill="#000"  stroke="#000" stroke-width="0.3">Nov</text>
<text x="533.11" y="449.20" font-size="8.3" textLength="21.77" lengthAdjust="spacingAndGlyphs" fill="#000"  stroke="#000" stroke-width="0.3">2001</text>
<text x="535.44" y="456.50" font-size="8.3" textLength="16.39" lengthAdjust="spacingAndGlyphs" fill="#000"  stroke="#000" stroke-width="0.3">Nov</text>
<text x="562.61" y="449.20" font-size="8.3" textLength="21.77" lengthAdjust="spacingAndGlyphs" fill="#000"  stroke="#000" stroke-width="0.3">2001</text>
<text x="564.94" y="456.50" font-size="8.3" textLength="16.39" lengthAdjust="spacingAndGlyphs" fill="#000"  stroke="#000" stroke-width="0.3">Nov</text>
<text x="58.04" y="432.20" font-size="9.2" textLength="5.55" lengthAdjust="spacingAndGlyphs" fill="#000"  stroke="#000" stroke-width="0.3">1</text>
<text x="48.34" y="436.70" font-size="9.2" textLength="9.71" lengthAdjust="spacingAndGlyphs" fill="#000"  stroke="#000" stroke-width="0.3">10</text>
<text x="58.33" y="404.00" font-size="9.2" textLength="5.25" lengthAdjust="spacingAndGlyphs" fill="#000"  stroke="#000" stroke-width="0.3">2</text>
<text x="48.34" y="408.50" font-size="9.2" textLength="9.71" lengthAdjust="spacingAndGlyphs" fill="#000"  stroke="#000" stroke-width="0.3">10</text>
<text x="58.45" y="372.50" font-size="9.2" textLength="5.04" lengthAdjust="spacingAndGlyphs" fill="#000"  stroke="#000" stroke-width="0.3">3</text>
<text x="48.34" y="377.00" font-size="9.2" textLength="9.71" lengthAdjust="spacingAndGlyphs" fill="#000"  stroke="#000" stroke-width="0.3">10</text>
<text x="58.60" y="341.00" font-size="9.2" textLength="4.75" lengthAdjust="spacingAndGlyphs" fill="#000"  stroke="#000" stroke-width="0.3">4</text>
<text x="48.34" y="345.50" font-size="9.2" textLength="9.71" lengthAdjust="spacingAndGlyphs" fill="#000"  stroke="#000" stroke-width="0.3">10</text>
<text x="58.44" y="311.40" font-size="9.2" textLength="5.04" lengthAdjust="spacingAndGlyphs" fill="#000"  stroke="#000" stroke-width="0.3">5</text>
<text x="48.34" y="315.90" font-size="9.2" textLength="9.71" lengthAdjust="spacingAndGlyphs" fill="#000"  stroke="#000" stroke-width="0.3">10</text>
<text x="253.33" y="432.20" font-size="9.2" textLength="5.18" lengthAdjust="spacingAndGlyphs" fill="#000"  stroke="#000" stroke-width="0.3">6</text>
<text x="243.34" y="436.70" font-size="9.2" textLength="9.71" lengthAdjust="spacingAndGlyphs" fill="#000"  stroke="#000" stroke-width="0.3">10</text>
<text x="253.32" y="404.00" font-size="9.2" textLength="5.26" lengthAdjust="spacingAndGlyphs" fill="#000"  stroke="#000" stroke-width="0.3">7</text>
<text x="243.34" y="408.50" font-size="9.2" textLength="9.71" lengthAdjust="spacingAndGlyphs" fill="#000"  stroke="#000" stroke-width="0.3">10</text>
<text x="253.40" y="372.50" font-size="9.2" textLength="5.10" lengthAdjust="spacingAndGlyphs" fill="#000"  stroke="#000" stroke-width="0.3">8</text>
<text x="243.34" y="377.00" font-size="9.2" textLength="9.71" lengthAdjust="spacingAndGlyphs" fill="#000"  stroke="#000" stroke-width="0.3">10</text>
<text x="253.36" y="341.00" font-size="9.2" textLength="5.18" lengthAdjust="spacingAndGlyphs" fill="#000"  stroke="#000" stroke-width="0.3">9</text>
<text x="243.34" y="345.50" font-size="9.2" textLength="9.71" lengthAdjust="spacingAndGlyphs" fill="#000"  stroke="#000" stroke-width="0.3">10</text>
<text x="247.23" y="311.40" font-size="9.2" textLength="11.27" lengthAdjust="spacingAndGlyphs" fill="#000"  stroke="#000" stroke-width="0.3">10</text>
<text x="237.54" y="315.90" font-size="9.2" textLength="9.71" lengthAdjust="spacingAndGlyphs" fill="#000"  stroke="#000" stroke-width="0.3">10</text>
<text x="447.33" y="432.20" font-size="9.2" textLength="5.25" lengthAdjust="spacingAndGlyphs" fill="#000"  stroke="#000" stroke-width="0.3">2</text>
<text x="437.34" y="436.70" font-size="9.2" textLength="9.71" lengthAdjust="spacingAndGlyphs" fill="#000"  stroke="#000" stroke-width="0.3">10</text>
<text x="447.45" y="404.00" font-size="9.2" textLength="5.04" lengthAdjust="spacingAndGlyphs" fill="#000"  stroke="#000" stroke-width="0.3">3</text>
<text x="437.34" y="408.50" font-size="9.2" textLength="9.71" lengthAdjust="spacingAndGlyphs" fill="#000"  stroke="#000" stroke-width="0.3">10</text>
<text x="447.60" y="372.50" font-size="9.2" textLength="4.75" lengthAdjust="spacingAndGlyphs" fill="#000"  stroke="#000" stroke-width="0.3">4</text>
<text x="437.34" y="377.00" font-size="9.2" textLength="9.71" lengthAdjust="spacingAndGlyphs" fill="#000"  stroke="#000" stroke-width="0.3">10</text>
<text x="447.44" y="341.00" font-size="9.2" textLength="5.04" lengthAdjust="spacingAndGlyphs" fill="#000"  stroke="#000" stroke-width="0.3">5</text>
<text x="437.34" y="345.50" font-size="9.2" textLength="9.71" lengthAdjust="spacingAndGlyphs" fill="#000"  stroke="#000" stroke-width="0.3">10</text>
<text x="447.33" y="311.40" font-size="9.2" textLength="5.18" lengthAdjust="spacingAndGlyphs" fill="#000"  stroke="#000" stroke-width="0.3">6</text>
<text x="437.34" y="315.90" font-size="9.2" textLength="9.71" lengthAdjust="spacingAndGlyphs" fill="#000"  stroke="#000" stroke-width="0.3">10</text>
<text transform="translate(40.80,448.38) rotate(-90)" x="0" y="0" font-size="9.9" textLength="6.85" lengthAdjust="spacingAndGlyphs" fill="#000"  stroke="#000" stroke-width="0.3">H</text>
<text transform="translate(40.80,437.75) rotate(-90)" x="0" y="0" font-size="9.9" textLength="20.84" lengthAdjust="spacingAndGlyphs" fill="#000"  stroke="#000" stroke-width="0.3">Peak</text>
<text transform="translate(40.80,413.63) rotate(-90)" x="0" y="0" font-size="9.9" textLength="37.65" lengthAdjust="spacingAndGlyphs" fill="#000"  stroke="#000" stroke-width="0.3">Intensity</text>
<text transform="translate(40.80,372.45) rotate(-90)" x="0" y="0" font-size="9.9" textLength="14.73" lengthAdjust="spacingAndGlyphs" fill="#000"  stroke="#000" stroke-width="0.3">(cm</text>
<text transform="translate(35.30,358.49) rotate(-90)" x="0" y="0" font-size="7.920000000000001" textLength="5.37" lengthAdjust="spacingAndGlyphs" fill="#000"  stroke="#000" stroke-width="0.3">2</text>
<text transform="translate(40.80,351.90) rotate(-90)" x="0" y="0" font-size="9.9" textLength="39.32" lengthAdjust="spacingAndGlyphs" fill="#000"  stroke="#000" stroke-width="0.3">—sec—sr)</text>
<text transform="translate(35.50,312.74) rotate(-90)" x="0" y="0" font-size="7.920000000000001" textLength="12.53" lengthAdjust="spacingAndGlyphs" fill="#000"  stroke="#000" stroke-width="0.3">−1</text>
<text transform="translate(230.00,422.92) rotate(-90)" x="0" y="0" font-size="9.9" textLength="6.33" lengthAdjust="spacingAndGlyphs" fill="#000"  stroke="#000" stroke-width="0.3">H</text>
<text transform="translate(230.00,413.13) rotate(-90)" x="0" y="0" font-size="9.9" textLength="31.83" lengthAdjust="spacingAndGlyphs" fill="#000"  stroke="#000" stroke-width="0.3">Fluence</text>
<text transform="translate(230.00,376.65) rotate(-90)" x="0" y="0" font-size="9.9" textLength="14.84" lengthAdjust="spacingAndGlyphs" fill="#000"  stroke="#000" stroke-width="0.3">(cm</text>
<text transform="translate(225.00,362.09) rotate(-90)" x="0" y="0" font-size="7.920000000000001" textLength="5.37" lengthAdjust="spacingAndGlyphs" fill="#000"  stroke="#000" stroke-width="0.3">2</text>
<text transform="translate(230.00,356.40) rotate(-90)" x="0" y="0" font-size="9.9" textLength="19.56" lengthAdjust="spacingAndGlyphs" fill="#000"  stroke="#000" stroke-width="0.3">—sr)</text>
<text transform="translate(225.00,337.17) rotate(-90)" x="0" y="0" font-size="7.920000000000001" textLength="13.24" lengthAdjust="spacingAndGlyphs" fill="#000"  stroke="#000" stroke-width="0.3">−1</text>
<text transform="translate(429.40,442.40) rotate(-90)" x="0" y="0" font-size="9.9" textLength="8.52" lengthAdjust="spacingAndGlyphs" fill="#000"  stroke="#000" stroke-width="0.3">Fe</text>
<text transform="translate(429.40,429.82) rotate(-90)" x="0" y="0" font-size="9.9" textLength="16.67" lengthAdjust="spacingAndGlyphs" fill="#000"  stroke="#000" stroke-width="0.3">and</text>
<text transform="translate(429.40,409.37) rotate(-90)" x="0" y="0" font-size="9.9" textLength="6.15" lengthAdjust="spacingAndGlyphs" fill="#000"  stroke="#000" stroke-width="0.3">O</text>
<text transform="translate(429.40,398.63) rotate(-90)" x="0" y="0" font-size="9.9" textLength="35.95" lengthAdjust="spacingAndGlyphs" fill="#000"  stroke="#000" stroke-width="0.3">Fluences</text>
<text transform="translate(429.40,357.94) rotate(-90)" x="0" y="0" font-size="9.9" textLength="17.22" lengthAdjust="spacingAndGlyphs" fill="#000"  stroke="#000" stroke-width="0.3">(cm</text>
<text transform="translate(423.80,341.07) rotate(-90)" x="0" y="0" font-size="7.920000000000001" textLength="6.35" lengthAdjust="spacingAndGlyphs" fill="#000"  stroke="#000" stroke-width="0.3">2</text>
<text transform="translate(429.40,334.50) rotate(-90)" x="0" y="0" font-size="9.9" textLength="18.63" lengthAdjust="spacingAndGlyphs" fill="#000"  stroke="#000" stroke-width="0.3">—sr)</text>
<text transform="translate(423.80,316.89) rotate(-90)" x="0" y="0" font-size="7.920000000000001" textLength="11.38" lengthAdjust="spacingAndGlyphs" fill="#000"  stroke="#000" stroke-width="0.3">−1</text>
</svg>
</body></html>
